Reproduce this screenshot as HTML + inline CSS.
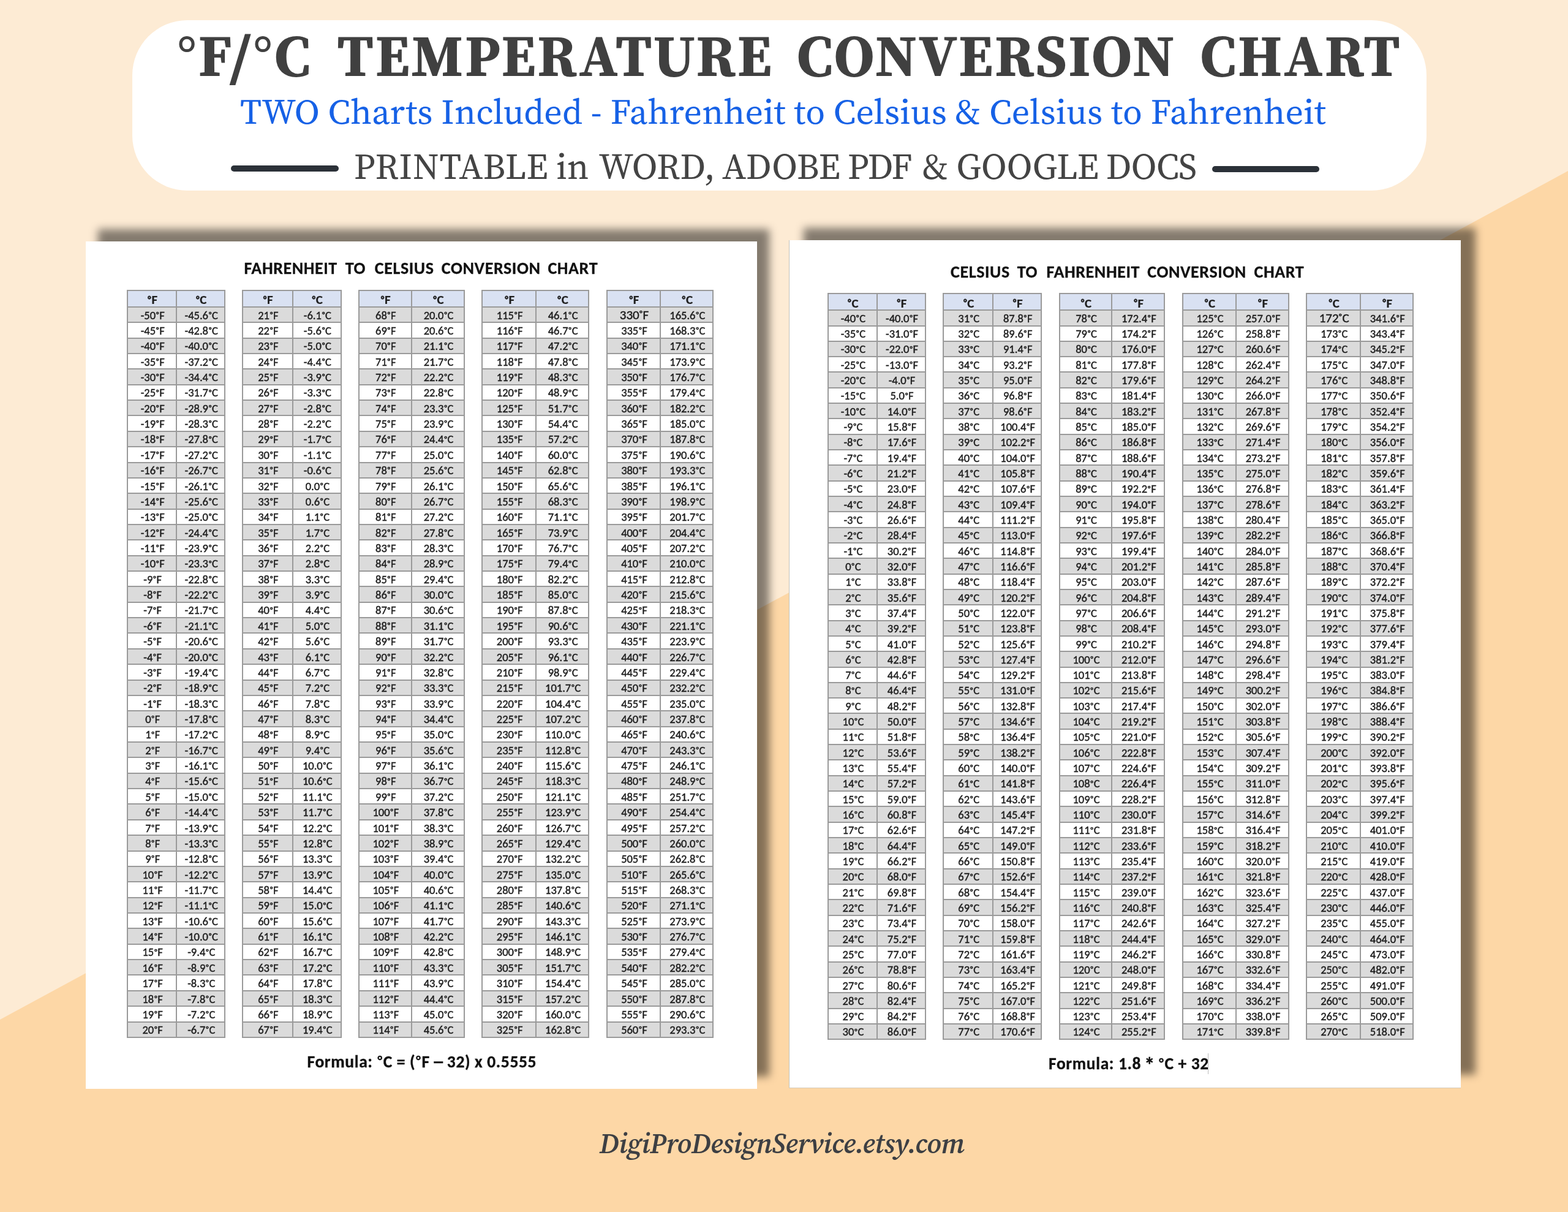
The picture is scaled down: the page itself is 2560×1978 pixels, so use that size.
<!DOCTYPE html>
<html><head><meta charset="utf-8"><title>°F/°C Temperature Conversion Chart</title>
<style>
*{margin:0;padding:0;box-sizing:border-box}
html,body{width:2560px;height:1978px;overflow:hidden}
body{position:relative;background:#fdebd4;font-family:"Carlito","Liberation Sans",sans-serif;font-size-adjust:cap-height 0.6416}
#bg2{position:absolute;left:0;top:0;width:2560px;height:1978px}
.pill{position:absolute;left:216px;top:33px;width:2113px;height:278px;background:#fff;border-radius:90px}
.title{position:absolute;left:0;width:2560px;white-space:nowrap;font-family:"Source Serif 4","Liberation Serif",serif;font-size-adjust:cap-height 0.67;color:#404040}
.t1{top:35.5px;font-weight:700;font-size:95px;line-height:110px;width:auto;letter-spacing:2.3px}
.t2{top:147px;font-weight:400;font-size:58px;line-height:70px;left:392px;letter-spacing:0.127px;width:auto;color:#1661e6}
.t3{top:240px;font-weight:400;font-size:58.8px;line-height:64px;left:578px;width:auto;color:#444}
.dash{position:absolute;height:10px;border-radius:5px;background:#2b3138}
.card{position:absolute;background:#fff}
.shadow{position:absolute;background:rgba(0,0,0,.48);filter:blur(7px)}
.ct{font-size-adjust:cap-height 0.6484;position:absolute;white-space:nowrap;font-weight:700;font-size:28px;line-height:34px;color:#111;letter-spacing:0.6px;-webkit-text-stroke:0.3px #111}
.t{position:absolute;background:#fff;box-shadow:inset 0 2px 0 #9a9a9a,inset 2px 0 0 #9a9a9a,inset -2px 0 0 #9a9a9a}
.t .h,.t .r{position:absolute;left:0;right:0}
.t .h{top:0;background:#d9e1f2;border-top:2px solid #9a9a9a}
.t .r{border-top:2px solid #9a9a9a}
.t .g{background:#dbdbdb}
.t .w{background:#fff}
.t .hl{position:absolute;left:0;right:0;height:2px;background:#9a9a9a}
.t b,.t s{position:absolute;top:0;bottom:0;display:flex;align-items:center;justify-content:center;text-decoration:none;color:#1e1e1e;white-space:nowrap}
.t b{font-size-adjust:cap-height 0.6484;font-weight:700;font-size:21px;padding-top:3px;padding-left:2.5px;letter-spacing:0.4px;-webkit-text-stroke:0.2px #1e1e1e}
.t b u{text-decoration:none;font-size:15px;position:relative;top:-0.5px;margin-right:0.5px;-webkit-text-stroke:0.7px #1e1e1e}
.t s{font-size:18.5px;padding-top:1px;padding-left:2px;-webkit-text-stroke:0.45px #1e1e1e}
.t .vl{position:absolute;top:0;bottom:0;width:2px;background:#9a9a9a}
.t .r::before,.t .h::before{content:"";position:absolute;left:0;top:-2px;bottom:0;width:2px;background:#9a9a9a}
.t .r::after,.t .h::after{content:"";position:absolute;right:0;top:-2px;bottom:0;width:2px;background:#9a9a9a}
.t s u{text-decoration:none;font-size:12.5px;font-weight:700;position:relative;top:-1.8px;padding:0 0.9px 0 1px;-webkit-text-stroke:0.45px #1e1e1e}
.big{font-style:normal;font-size:21px;position:relative;top:-0.5px}
.big sup{font-size:13px;font-weight:700;vertical-align:0;position:relative;top:-6px;padding:0 1px 0 0.5px}
.formula{font-size-adjust:cap-height 0.6484;position:absolute;white-space:nowrap;font-weight:700;font-size:27.5px;line-height:33px;color:#111;letter-spacing:0.66px;-webkit-text-stroke:0.35px #111}
.formula u{text-decoration:none;font-size:22px;position:relative;top:-3.5px;padding:0 1px}
.formula .nd{display:inline-block;transform:scaleX(1.5)}
.formula .ast{display:inline-block;transform:scale(1.25) translateY(1px)}
.etsy{position:absolute;white-space:nowrap;font-family:"Source Serif 4","Liberation Serif",serif;font-size-adjust:cap-height 0.67;font-style:italic;font-weight:600;font-size:46px;line-height:56px;color:#3d3f43;letter-spacing:-0.42px}

</style></head><body>
<svg id="bg2" width="2560" height="1978" viewBox="0 0 2560 1978"><polygon points="2560,279 2560,1978 0,1978 0,1664" fill="#fdd7a6"/></svg>
<div class="pill"></div>
<div class="title t1 fit" style="left:289.5px;letter-spacing:2.9px">°F/°C</div>
<div class="title t1 fit" style="left:550px">TEMPERATURE</div>
<div class="title t1 fit" style="left:1300.5px">CONVERSION</div>
<div class="title t1 fit" style="left:1959px;letter-spacing:2.6px">CHART</div>
<div class="title t2 fit">TWO Charts Included - Fahrenheit to Celsius &amp; Celsius to Fahrenheit</div>
<div class="dash" style="left:377px;top:270px;width:175.5px"></div>
<div class="title t3 fit" style="left:577.8px;letter-spacing:0.6px">PRINTABLE</div>
<div class="title t3 fit" style="left:908.2px;letter-spacing:0px">in</div>
<div class="title t3 fit" style="left:977.6px;letter-spacing:0px">WORD,</div>
<div class="title t3 fit" style="left:1179.2px;letter-spacing:0.2px">ADOBE</div>
<div class="title t3 fit" style="left:1383.8px;letter-spacing:-1.3px">PDF</div>
<div class="title t3 fit" style="left:1506.0px;letter-spacing:1.3px">&amp;</div>
<div class="title t3 fit" style="left:1561.6px;letter-spacing:-0.3px">GOOGLE</div>
<div class="title t3 fit" style="left:1805.6px;letter-spacing:-1.1px">DOCS</div>
<div class="dash" style="left:1979px;top:271px;width:175px"></div>

<div class="shadow" style="left:160px;top:374px;width:1096px;height:1383px"></div>
<div class="card" style="left:140px;top:394px;width:1096px;height:1383px"></div>
<div class="ct fit" style="left:398.5px;top:421px">FAHRENHEIT</div>
<div class="ct fit" style="left:563.7px;top:421px">TO</div>
<div class="ct fit" style="left:611.8px;top:421px">CELSIUS</div>
<div class="ct fit" style="left:720.8px;top:421px">CONVERSION</div>
<div class="ct fit" style="left:894.4px;top:421px">CHART</div>
<div class="t" style="left:207.30px;top:472.70px;width:161.20px;height:1221.21px">
<div class="h" style="height:28.20px"><b style="left:2px;width:77.70px"><u>°</u>F</b><b style="left:81.70px;width:77.50px"><u>°</u>C</b></div>
<div class="r g" style="top:27.20px;height:25.36px"><s style="left:2px;width:77.70px">-50<u>°</u>F</s><s style="left:81.70px;width:77.50px">-45.6<u>°</u>C</s></div>
<div class="r w" style="top:52.56px;height:25.36px"><s style="left:2px;width:77.70px">-45<u>°</u>F</s><s style="left:81.70px;width:77.50px">-42.8<u>°</u>C</s></div>
<div class="r g" style="top:77.92px;height:25.36px"><s style="left:2px;width:77.70px">-40<u>°</u>F</s><s style="left:81.70px;width:77.50px">-40.0<u>°</u>C</s></div>
<div class="r w" style="top:103.29px;height:25.36px"><s style="left:2px;width:77.70px">-35<u>°</u>F</s><s style="left:81.70px;width:77.50px">-37.2<u>°</u>C</s></div>
<div class="r g" style="top:128.65px;height:25.36px"><s style="left:2px;width:77.70px">-30<u>°</u>F</s><s style="left:81.70px;width:77.50px">-34.4<u>°</u>C</s></div>
<div class="r w" style="top:154.01px;height:25.36px"><s style="left:2px;width:77.70px">-25<u>°</u>F</s><s style="left:81.70px;width:77.50px">-31.7<u>°</u>C</s></div>
<div class="r g" style="top:179.37px;height:25.36px"><s style="left:2px;width:77.70px">-20<u>°</u>F</s><s style="left:81.70px;width:77.50px">-28.9<u>°</u>C</s></div>
<div class="r w" style="top:204.73px;height:25.36px"><s style="left:2px;width:77.70px">-19<u>°</u>F</s><s style="left:81.70px;width:77.50px">-28.3<u>°</u>C</s></div>
<div class="r g" style="top:230.10px;height:25.36px"><s style="left:2px;width:77.70px">-18<u>°</u>F</s><s style="left:81.70px;width:77.50px">-27.8<u>°</u>C</s></div>
<div class="r w" style="top:255.46px;height:25.36px"><s style="left:2px;width:77.70px">-17<u>°</u>F</s><s style="left:81.70px;width:77.50px">-27.2<u>°</u>C</s></div>
<div class="r g" style="top:280.82px;height:25.36px"><s style="left:2px;width:77.70px">-16<u>°</u>F</s><s style="left:81.70px;width:77.50px">-26.7<u>°</u>C</s></div>
<div class="r w" style="top:306.18px;height:25.36px"><s style="left:2px;width:77.70px">-15<u>°</u>F</s><s style="left:81.70px;width:77.50px">-26.1<u>°</u>C</s></div>
<div class="r g" style="top:331.54px;height:25.36px"><s style="left:2px;width:77.70px">-14<u>°</u>F</s><s style="left:81.70px;width:77.50px">-25.6<u>°</u>C</s></div>
<div class="r w" style="top:356.91px;height:25.36px"><s style="left:2px;width:77.70px">-13<u>°</u>F</s><s style="left:81.70px;width:77.50px">-25.0<u>°</u>C</s></div>
<div class="r g" style="top:382.27px;height:25.36px"><s style="left:2px;width:77.70px">-12<u>°</u>F</s><s style="left:81.70px;width:77.50px">-24.4<u>°</u>C</s></div>
<div class="r w" style="top:407.63px;height:25.36px"><s style="left:2px;width:77.70px">-11<u>°</u>F</s><s style="left:81.70px;width:77.50px">-23.9<u>°</u>C</s></div>
<div class="r g" style="top:432.99px;height:25.36px"><s style="left:2px;width:77.70px">-10<u>°</u>F</s><s style="left:81.70px;width:77.50px">-23.3<u>°</u>C</s></div>
<div class="r w" style="top:458.35px;height:25.36px"><s style="left:2px;width:77.70px">-9<u>°</u>F</s><s style="left:81.70px;width:77.50px">-22.8<u>°</u>C</s></div>
<div class="r g" style="top:483.72px;height:25.36px"><s style="left:2px;width:77.70px">-8<u>°</u>F</s><s style="left:81.70px;width:77.50px">-22.2<u>°</u>C</s></div>
<div class="r w" style="top:509.08px;height:25.36px"><s style="left:2px;width:77.70px">-7<u>°</u>F</s><s style="left:81.70px;width:77.50px">-21.7<u>°</u>C</s></div>
<div class="r g" style="top:534.44px;height:25.36px"><s style="left:2px;width:77.70px">-6<u>°</u>F</s><s style="left:81.70px;width:77.50px">-21.1<u>°</u>C</s></div>
<div class="r w" style="top:559.80px;height:25.36px"><s style="left:2px;width:77.70px">-5<u>°</u>F</s><s style="left:81.70px;width:77.50px">-20.6<u>°</u>C</s></div>
<div class="r g" style="top:585.16px;height:25.36px"><s style="left:2px;width:77.70px">-4<u>°</u>F</s><s style="left:81.70px;width:77.50px">-20.0<u>°</u>C</s></div>
<div class="r w" style="top:610.53px;height:25.36px"><s style="left:2px;width:77.70px">-3<u>°</u>F</s><s style="left:81.70px;width:77.50px">-19.4<u>°</u>C</s></div>
<div class="r g" style="top:635.89px;height:25.36px"><s style="left:2px;width:77.70px">-2<u>°</u>F</s><s style="left:81.70px;width:77.50px">-18.9<u>°</u>C</s></div>
<div class="r w" style="top:661.25px;height:25.36px"><s style="left:2px;width:77.70px">-1<u>°</u>F</s><s style="left:81.70px;width:77.50px">-18.3<u>°</u>C</s></div>
<div class="r g" style="top:686.61px;height:25.36px"><s style="left:2px;width:77.70px">0<u>°</u>F</s><s style="left:81.70px;width:77.50px">-17.8<u>°</u>C</s></div>
<div class="r w" style="top:711.97px;height:25.36px"><s style="left:2px;width:77.70px">1<u>°</u>F</s><s style="left:81.70px;width:77.50px">-17.2<u>°</u>C</s></div>
<div class="r g" style="top:737.34px;height:25.36px"><s style="left:2px;width:77.70px">2<u>°</u>F</s><s style="left:81.70px;width:77.50px">-16.7<u>°</u>C</s></div>
<div class="r w" style="top:762.70px;height:25.36px"><s style="left:2px;width:77.70px">3<u>°</u>F</s><s style="left:81.70px;width:77.50px">-16.1<u>°</u>C</s></div>
<div class="r g" style="top:788.06px;height:25.36px"><s style="left:2px;width:77.70px">4<u>°</u>F</s><s style="left:81.70px;width:77.50px">-15.6<u>°</u>C</s></div>
<div class="r w" style="top:813.42px;height:25.36px"><s style="left:2px;width:77.70px">5<u>°</u>F</s><s style="left:81.70px;width:77.50px">-15.0<u>°</u>C</s></div>
<div class="r g" style="top:838.78px;height:25.36px"><s style="left:2px;width:77.70px">6<u>°</u>F</s><s style="left:81.70px;width:77.50px">-14.4<u>°</u>C</s></div>
<div class="r w" style="top:864.15px;height:25.36px"><s style="left:2px;width:77.70px">7<u>°</u>F</s><s style="left:81.70px;width:77.50px">-13.9<u>°</u>C</s></div>
<div class="r g" style="top:889.51px;height:25.36px"><s style="left:2px;width:77.70px">8<u>°</u>F</s><s style="left:81.70px;width:77.50px">-13.3<u>°</u>C</s></div>
<div class="r w" style="top:914.87px;height:25.36px"><s style="left:2px;width:77.70px">9<u>°</u>F</s><s style="left:81.70px;width:77.50px">-12.8<u>°</u>C</s></div>
<div class="r g" style="top:940.23px;height:25.36px"><s style="left:2px;width:77.70px">10<u>°</u>F</s><s style="left:81.70px;width:77.50px">-12.2<u>°</u>C</s></div>
<div class="r w" style="top:965.59px;height:25.36px"><s style="left:2px;width:77.70px">11<u>°</u>F</s><s style="left:81.70px;width:77.50px">-11.7<u>°</u>C</s></div>
<div class="r g" style="top:990.96px;height:25.36px"><s style="left:2px;width:77.70px">12<u>°</u>F</s><s style="left:81.70px;width:77.50px">-11.1<u>°</u>C</s></div>
<div class="r w" style="top:1016.32px;height:25.36px"><s style="left:2px;width:77.70px">13<u>°</u>F</s><s style="left:81.70px;width:77.50px">-10.6<u>°</u>C</s></div>
<div class="r g" style="top:1041.68px;height:25.36px"><s style="left:2px;width:77.70px">14<u>°</u>F</s><s style="left:81.70px;width:77.50px">-10.0<u>°</u>C</s></div>
<div class="r w" style="top:1067.04px;height:25.36px"><s style="left:2px;width:77.70px">15<u>°</u>F</s><s style="left:81.70px;width:77.50px">-9.4<u>°</u>C</s></div>
<div class="r g" style="top:1092.40px;height:25.36px"><s style="left:2px;width:77.70px">16<u>°</u>F</s><s style="left:81.70px;width:77.50px">-8.9<u>°</u>C</s></div>
<div class="r w" style="top:1117.77px;height:25.36px"><s style="left:2px;width:77.70px">17<u>°</u>F</s><s style="left:81.70px;width:77.50px">-8.3<u>°</u>C</s></div>
<div class="r g" style="top:1143.13px;height:25.36px"><s style="left:2px;width:77.70px">18<u>°</u>F</s><s style="left:81.70px;width:77.50px">-7.8<u>°</u>C</s></div>
<div class="r w" style="top:1168.49px;height:25.36px"><s style="left:2px;width:77.70px">19<u>°</u>F</s><s style="left:81.70px;width:77.50px">-7.2<u>°</u>C</s></div>
<div class="r g" style="top:1193.85px;height:25.36px"><s style="left:2px;width:77.70px">20<u>°</u>F</s><s style="left:81.70px;width:77.50px">-6.7<u>°</u>C</s></div>
<div class="hl" style="top:1219.21px"></div>
<div class="vl" style="left:79.70px"></div>
</div>
<div class="t" style="left:395.00px;top:472.70px;width:163.00px;height:1221.21px">
<div class="h" style="height:28.20px"><b style="left:2px;width:79.70px"><u>°</u>F</b><b style="left:83.70px;width:77.30px"><u>°</u>C</b></div>
<div class="r g" style="top:27.20px;height:25.36px"><s style="left:2px;width:79.70px">21<u>°</u>F</s><s style="left:83.70px;width:77.30px">-6.1<u>°</u>C</s></div>
<div class="r w" style="top:52.56px;height:25.36px"><s style="left:2px;width:79.70px">22<u>°</u>F</s><s style="left:83.70px;width:77.30px">-5.6<u>°</u>C</s></div>
<div class="r g" style="top:77.92px;height:25.36px"><s style="left:2px;width:79.70px">23<u>°</u>F</s><s style="left:83.70px;width:77.30px">-5.0<u>°</u>C</s></div>
<div class="r w" style="top:103.29px;height:25.36px"><s style="left:2px;width:79.70px">24<u>°</u>F</s><s style="left:83.70px;width:77.30px">-4.4<u>°</u>C</s></div>
<div class="r g" style="top:128.65px;height:25.36px"><s style="left:2px;width:79.70px">25<u>°</u>F</s><s style="left:83.70px;width:77.30px">-3.9<u>°</u>C</s></div>
<div class="r w" style="top:154.01px;height:25.36px"><s style="left:2px;width:79.70px">26<u>°</u>F</s><s style="left:83.70px;width:77.30px">-3.3<u>°</u>C</s></div>
<div class="r g" style="top:179.37px;height:25.36px"><s style="left:2px;width:79.70px">27<u>°</u>F</s><s style="left:83.70px;width:77.30px">-2.8<u>°</u>C</s></div>
<div class="r w" style="top:204.73px;height:25.36px"><s style="left:2px;width:79.70px">28<u>°</u>F</s><s style="left:83.70px;width:77.30px">-2.2<u>°</u>C</s></div>
<div class="r g" style="top:230.10px;height:25.36px"><s style="left:2px;width:79.70px">29<u>°</u>F</s><s style="left:83.70px;width:77.30px">-1.7<u>°</u>C</s></div>
<div class="r w" style="top:255.46px;height:25.36px"><s style="left:2px;width:79.70px">30<u>°</u>F</s><s style="left:83.70px;width:77.30px">-1.1<u>°</u>C</s></div>
<div class="r g" style="top:280.82px;height:25.36px"><s style="left:2px;width:79.70px">31<u>°</u>F</s><s style="left:83.70px;width:77.30px">-0.6<u>°</u>C</s></div>
<div class="r w" style="top:306.18px;height:25.36px"><s style="left:2px;width:79.70px">32<u>°</u>F</s><s style="left:83.70px;width:77.30px">0.0<u>°</u>C</s></div>
<div class="r g" style="top:331.54px;height:25.36px"><s style="left:2px;width:79.70px">33<u>°</u>F</s><s style="left:83.70px;width:77.30px">0.6<u>°</u>C</s></div>
<div class="r w" style="top:356.91px;height:25.36px"><s style="left:2px;width:79.70px">34<u>°</u>F</s><s style="left:83.70px;width:77.30px">1.1<u>°</u>C</s></div>
<div class="r g" style="top:382.27px;height:25.36px"><s style="left:2px;width:79.70px">35<u>°</u>F</s><s style="left:83.70px;width:77.30px">1.7<u>°</u>C</s></div>
<div class="r w" style="top:407.63px;height:25.36px"><s style="left:2px;width:79.70px">36<u>°</u>F</s><s style="left:83.70px;width:77.30px">2.2<u>°</u>C</s></div>
<div class="r g" style="top:432.99px;height:25.36px"><s style="left:2px;width:79.70px">37<u>°</u>F</s><s style="left:83.70px;width:77.30px">2.8<u>°</u>C</s></div>
<div class="r w" style="top:458.35px;height:25.36px"><s style="left:2px;width:79.70px">38<u>°</u>F</s><s style="left:83.70px;width:77.30px">3.3<u>°</u>C</s></div>
<div class="r g" style="top:483.72px;height:25.36px"><s style="left:2px;width:79.70px">39<u>°</u>F</s><s style="left:83.70px;width:77.30px">3.9<u>°</u>C</s></div>
<div class="r w" style="top:509.08px;height:25.36px"><s style="left:2px;width:79.70px">40<u>°</u>F</s><s style="left:83.70px;width:77.30px">4.4<u>°</u>C</s></div>
<div class="r g" style="top:534.44px;height:25.36px"><s style="left:2px;width:79.70px">41<u>°</u>F</s><s style="left:83.70px;width:77.30px">5.0<u>°</u>C</s></div>
<div class="r w" style="top:559.80px;height:25.36px"><s style="left:2px;width:79.70px">42<u>°</u>F</s><s style="left:83.70px;width:77.30px">5.6<u>°</u>C</s></div>
<div class="r g" style="top:585.16px;height:25.36px"><s style="left:2px;width:79.70px">43<u>°</u>F</s><s style="left:83.70px;width:77.30px">6.1<u>°</u>C</s></div>
<div class="r w" style="top:610.53px;height:25.36px"><s style="left:2px;width:79.70px">44<u>°</u>F</s><s style="left:83.70px;width:77.30px">6.7<u>°</u>C</s></div>
<div class="r g" style="top:635.89px;height:25.36px"><s style="left:2px;width:79.70px">45<u>°</u>F</s><s style="left:83.70px;width:77.30px">7.2<u>°</u>C</s></div>
<div class="r w" style="top:661.25px;height:25.36px"><s style="left:2px;width:79.70px">46<u>°</u>F</s><s style="left:83.70px;width:77.30px">7.8<u>°</u>C</s></div>
<div class="r g" style="top:686.61px;height:25.36px"><s style="left:2px;width:79.70px">47<u>°</u>F</s><s style="left:83.70px;width:77.30px">8.3<u>°</u>C</s></div>
<div class="r w" style="top:711.97px;height:25.36px"><s style="left:2px;width:79.70px">48<u>°</u>F</s><s style="left:83.70px;width:77.30px">8.9<u>°</u>C</s></div>
<div class="r g" style="top:737.34px;height:25.36px"><s style="left:2px;width:79.70px">49<u>°</u>F</s><s style="left:83.70px;width:77.30px">9.4<u>°</u>C</s></div>
<div class="r w" style="top:762.70px;height:25.36px"><s style="left:2px;width:79.70px">50<u>°</u>F</s><s style="left:83.70px;width:77.30px">10.0<u>°</u>C</s></div>
<div class="r g" style="top:788.06px;height:25.36px"><s style="left:2px;width:79.70px">51<u>°</u>F</s><s style="left:83.70px;width:77.30px">10.6<u>°</u>C</s></div>
<div class="r w" style="top:813.42px;height:25.36px"><s style="left:2px;width:79.70px">52<u>°</u>F</s><s style="left:83.70px;width:77.30px">11.1<u>°</u>C</s></div>
<div class="r g" style="top:838.78px;height:25.36px"><s style="left:2px;width:79.70px">53<u>°</u>F</s><s style="left:83.70px;width:77.30px">11.7<u>°</u>C</s></div>
<div class="r w" style="top:864.15px;height:25.36px"><s style="left:2px;width:79.70px">54<u>°</u>F</s><s style="left:83.70px;width:77.30px">12.2<u>°</u>C</s></div>
<div class="r g" style="top:889.51px;height:25.36px"><s style="left:2px;width:79.70px">55<u>°</u>F</s><s style="left:83.70px;width:77.30px">12.8<u>°</u>C</s></div>
<div class="r w" style="top:914.87px;height:25.36px"><s style="left:2px;width:79.70px">56<u>°</u>F</s><s style="left:83.70px;width:77.30px">13.3<u>°</u>C</s></div>
<div class="r g" style="top:940.23px;height:25.36px"><s style="left:2px;width:79.70px">57<u>°</u>F</s><s style="left:83.70px;width:77.30px">13.9<u>°</u>C</s></div>
<div class="r w" style="top:965.59px;height:25.36px"><s style="left:2px;width:79.70px">58<u>°</u>F</s><s style="left:83.70px;width:77.30px">14.4<u>°</u>C</s></div>
<div class="r g" style="top:990.96px;height:25.36px"><s style="left:2px;width:79.70px">59<u>°</u>F</s><s style="left:83.70px;width:77.30px">15.0<u>°</u>C</s></div>
<div class="r w" style="top:1016.32px;height:25.36px"><s style="left:2px;width:79.70px">60<u>°</u>F</s><s style="left:83.70px;width:77.30px">15.6<u>°</u>C</s></div>
<div class="r g" style="top:1041.68px;height:25.36px"><s style="left:2px;width:79.70px">61<u>°</u>F</s><s style="left:83.70px;width:77.30px">16.1<u>°</u>C</s></div>
<div class="r w" style="top:1067.04px;height:25.36px"><s style="left:2px;width:79.70px">62<u>°</u>F</s><s style="left:83.70px;width:77.30px">16.7<u>°</u>C</s></div>
<div class="r g" style="top:1092.40px;height:25.36px"><s style="left:2px;width:79.70px">63<u>°</u>F</s><s style="left:83.70px;width:77.30px">17.2<u>°</u>C</s></div>
<div class="r w" style="top:1117.77px;height:25.36px"><s style="left:2px;width:79.70px">64<u>°</u>F</s><s style="left:83.70px;width:77.30px">17.8<u>°</u>C</s></div>
<div class="r g" style="top:1143.13px;height:25.36px"><s style="left:2px;width:79.70px">65<u>°</u>F</s><s style="left:83.70px;width:77.30px">18.3<u>°</u>C</s></div>
<div class="r w" style="top:1168.49px;height:25.36px"><s style="left:2px;width:79.70px">66<u>°</u>F</s><s style="left:83.70px;width:77.30px">18.9<u>°</u>C</s></div>
<div class="r g" style="top:1193.85px;height:25.36px"><s style="left:2px;width:79.70px">67<u>°</u>F</s><s style="left:83.70px;width:77.30px">19.4<u>°</u>C</s></div>
<div class="hl" style="top:1219.21px"></div>
<div class="vl" style="left:81.70px"></div>
</div>
<div class="t" style="left:584.80px;top:472.70px;width:174.60px;height:1221.21px">
<div class="h" style="height:28.20px"><b style="left:2px;width:84.00px"><u>°</u>F</b><b style="left:88.00px;width:84.60px"><u>°</u>C</b></div>
<div class="r g" style="top:27.20px;height:25.36px"><s style="left:2px;width:84.00px">68<u>°</u>F</s><s style="left:88.00px;width:84.60px">20.0<u>°</u>C</s></div>
<div class="r w" style="top:52.56px;height:25.36px"><s style="left:2px;width:84.00px">69<u>°</u>F</s><s style="left:88.00px;width:84.60px">20.6<u>°</u>C</s></div>
<div class="r g" style="top:77.92px;height:25.36px"><s style="left:2px;width:84.00px">70<u>°</u>F</s><s style="left:88.00px;width:84.60px">21.1<u>°</u>C</s></div>
<div class="r w" style="top:103.29px;height:25.36px"><s style="left:2px;width:84.00px">71<u>°</u>F</s><s style="left:88.00px;width:84.60px">21.7<u>°</u>C</s></div>
<div class="r g" style="top:128.65px;height:25.36px"><s style="left:2px;width:84.00px">72<u>°</u>F</s><s style="left:88.00px;width:84.60px">22.2<u>°</u>C</s></div>
<div class="r w" style="top:154.01px;height:25.36px"><s style="left:2px;width:84.00px">73<u>°</u>F</s><s style="left:88.00px;width:84.60px">22.8<u>°</u>C</s></div>
<div class="r g" style="top:179.37px;height:25.36px"><s style="left:2px;width:84.00px">74<u>°</u>F</s><s style="left:88.00px;width:84.60px">23.3<u>°</u>C</s></div>
<div class="r w" style="top:204.73px;height:25.36px"><s style="left:2px;width:84.00px">75<u>°</u>F</s><s style="left:88.00px;width:84.60px">23.9<u>°</u>C</s></div>
<div class="r g" style="top:230.10px;height:25.36px"><s style="left:2px;width:84.00px">76<u>°</u>F</s><s style="left:88.00px;width:84.60px">24.4<u>°</u>C</s></div>
<div class="r w" style="top:255.46px;height:25.36px"><s style="left:2px;width:84.00px">77<u>°</u>F</s><s style="left:88.00px;width:84.60px">25.0<u>°</u>C</s></div>
<div class="r g" style="top:280.82px;height:25.36px"><s style="left:2px;width:84.00px">78<u>°</u>F</s><s style="left:88.00px;width:84.60px">25.6<u>°</u>C</s></div>
<div class="r w" style="top:306.18px;height:25.36px"><s style="left:2px;width:84.00px">79<u>°</u>F</s><s style="left:88.00px;width:84.60px">26.1<u>°</u>C</s></div>
<div class="r g" style="top:331.54px;height:25.36px"><s style="left:2px;width:84.00px">80<u>°</u>F</s><s style="left:88.00px;width:84.60px">26.7<u>°</u>C</s></div>
<div class="r w" style="top:356.91px;height:25.36px"><s style="left:2px;width:84.00px">81<u>°</u>F</s><s style="left:88.00px;width:84.60px">27.2<u>°</u>C</s></div>
<div class="r g" style="top:382.27px;height:25.36px"><s style="left:2px;width:84.00px">82<u>°</u>F</s><s style="left:88.00px;width:84.60px">27.8<u>°</u>C</s></div>
<div class="r w" style="top:407.63px;height:25.36px"><s style="left:2px;width:84.00px">83<u>°</u>F</s><s style="left:88.00px;width:84.60px">28.3<u>°</u>C</s></div>
<div class="r g" style="top:432.99px;height:25.36px"><s style="left:2px;width:84.00px">84<u>°</u>F</s><s style="left:88.00px;width:84.60px">28.9<u>°</u>C</s></div>
<div class="r w" style="top:458.35px;height:25.36px"><s style="left:2px;width:84.00px">85<u>°</u>F</s><s style="left:88.00px;width:84.60px">29.4<u>°</u>C</s></div>
<div class="r g" style="top:483.72px;height:25.36px"><s style="left:2px;width:84.00px">86<u>°</u>F</s><s style="left:88.00px;width:84.60px">30.0<u>°</u>C</s></div>
<div class="r w" style="top:509.08px;height:25.36px"><s style="left:2px;width:84.00px">87<u>°</u>F</s><s style="left:88.00px;width:84.60px">30.6<u>°</u>C</s></div>
<div class="r g" style="top:534.44px;height:25.36px"><s style="left:2px;width:84.00px">88<u>°</u>F</s><s style="left:88.00px;width:84.60px">31.1<u>°</u>C</s></div>
<div class="r w" style="top:559.80px;height:25.36px"><s style="left:2px;width:84.00px">89<u>°</u>F</s><s style="left:88.00px;width:84.60px">31.7<u>°</u>C</s></div>
<div class="r g" style="top:585.16px;height:25.36px"><s style="left:2px;width:84.00px">90<u>°</u>F</s><s style="left:88.00px;width:84.60px">32.2<u>°</u>C</s></div>
<div class="r w" style="top:610.53px;height:25.36px"><s style="left:2px;width:84.00px">91<u>°</u>F</s><s style="left:88.00px;width:84.60px">32.8<u>°</u>C</s></div>
<div class="r g" style="top:635.89px;height:25.36px"><s style="left:2px;width:84.00px">92<u>°</u>F</s><s style="left:88.00px;width:84.60px">33.3<u>°</u>C</s></div>
<div class="r w" style="top:661.25px;height:25.36px"><s style="left:2px;width:84.00px">93<u>°</u>F</s><s style="left:88.00px;width:84.60px">33.9<u>°</u>C</s></div>
<div class="r g" style="top:686.61px;height:25.36px"><s style="left:2px;width:84.00px">94<u>°</u>F</s><s style="left:88.00px;width:84.60px">34.4<u>°</u>C</s></div>
<div class="r w" style="top:711.97px;height:25.36px"><s style="left:2px;width:84.00px">95<u>°</u>F</s><s style="left:88.00px;width:84.60px">35.0<u>°</u>C</s></div>
<div class="r g" style="top:737.34px;height:25.36px"><s style="left:2px;width:84.00px">96<u>°</u>F</s><s style="left:88.00px;width:84.60px">35.6<u>°</u>C</s></div>
<div class="r w" style="top:762.70px;height:25.36px"><s style="left:2px;width:84.00px">97<u>°</u>F</s><s style="left:88.00px;width:84.60px">36.1<u>°</u>C</s></div>
<div class="r g" style="top:788.06px;height:25.36px"><s style="left:2px;width:84.00px">98<u>°</u>F</s><s style="left:88.00px;width:84.60px">36.7<u>°</u>C</s></div>
<div class="r w" style="top:813.42px;height:25.36px"><s style="left:2px;width:84.00px">99<u>°</u>F</s><s style="left:88.00px;width:84.60px">37.2<u>°</u>C</s></div>
<div class="r g" style="top:838.78px;height:25.36px"><s style="left:2px;width:84.00px">100<u>°</u>F</s><s style="left:88.00px;width:84.60px">37.8<u>°</u>C</s></div>
<div class="r w" style="top:864.15px;height:25.36px"><s style="left:2px;width:84.00px">101<u>°</u>F</s><s style="left:88.00px;width:84.60px">38.3<u>°</u>C</s></div>
<div class="r g" style="top:889.51px;height:25.36px"><s style="left:2px;width:84.00px">102<u>°</u>F</s><s style="left:88.00px;width:84.60px">38.9<u>°</u>C</s></div>
<div class="r w" style="top:914.87px;height:25.36px"><s style="left:2px;width:84.00px">103<u>°</u>F</s><s style="left:88.00px;width:84.60px">39.4<u>°</u>C</s></div>
<div class="r g" style="top:940.23px;height:25.36px"><s style="left:2px;width:84.00px">104<u>°</u>F</s><s style="left:88.00px;width:84.60px">40.0<u>°</u>C</s></div>
<div class="r w" style="top:965.59px;height:25.36px"><s style="left:2px;width:84.00px">105<u>°</u>F</s><s style="left:88.00px;width:84.60px">40.6<u>°</u>C</s></div>
<div class="r g" style="top:990.96px;height:25.36px"><s style="left:2px;width:84.00px">106<u>°</u>F</s><s style="left:88.00px;width:84.60px">41.1<u>°</u>C</s></div>
<div class="r w" style="top:1016.32px;height:25.36px"><s style="left:2px;width:84.00px">107<u>°</u>F</s><s style="left:88.00px;width:84.60px">41.7<u>°</u>C</s></div>
<div class="r g" style="top:1041.68px;height:25.36px"><s style="left:2px;width:84.00px">108<u>°</u>F</s><s style="left:88.00px;width:84.60px">42.2<u>°</u>C</s></div>
<div class="r w" style="top:1067.04px;height:25.36px"><s style="left:2px;width:84.00px">109<u>°</u>F</s><s style="left:88.00px;width:84.60px">42.8<u>°</u>C</s></div>
<div class="r g" style="top:1092.40px;height:25.36px"><s style="left:2px;width:84.00px">110<u>°</u>F</s><s style="left:88.00px;width:84.60px">43.3<u>°</u>C</s></div>
<div class="r w" style="top:1117.77px;height:25.36px"><s style="left:2px;width:84.00px">111<u>°</u>F</s><s style="left:88.00px;width:84.60px">43.9<u>°</u>C</s></div>
<div class="r g" style="top:1143.13px;height:25.36px"><s style="left:2px;width:84.00px">112<u>°</u>F</s><s style="left:88.00px;width:84.60px">44.4<u>°</u>C</s></div>
<div class="r w" style="top:1168.49px;height:25.36px"><s style="left:2px;width:84.00px">113<u>°</u>F</s><s style="left:88.00px;width:84.60px">45.0<u>°</u>C</s></div>
<div class="r g" style="top:1193.85px;height:25.36px"><s style="left:2px;width:84.00px">114<u>°</u>F</s><s style="left:88.00px;width:84.60px">45.6<u>°</u>C</s></div>
<div class="hl" style="top:1219.21px"></div>
<div class="vl" style="left:86.00px"></div>
</div>
<div class="t" style="left:786.30px;top:472.70px;width:175.90px;height:1221.21px">
<div class="h" style="height:28.20px"><b style="left:2px;width:85.80px"><u>°</u>F</b><b style="left:89.80px;width:84.10px"><u>°</u>C</b></div>
<div class="r g" style="top:27.20px;height:25.36px"><s style="left:2px;width:85.80px">115<u>°</u>F</s><s style="left:89.80px;width:84.10px">46.1<u>°</u>C</s></div>
<div class="r w" style="top:52.56px;height:25.36px"><s style="left:2px;width:85.80px">116<u>°</u>F</s><s style="left:89.80px;width:84.10px">46.7<u>°</u>C</s></div>
<div class="r g" style="top:77.92px;height:25.36px"><s style="left:2px;width:85.80px">117<u>°</u>F</s><s style="left:89.80px;width:84.10px">47.2<u>°</u>C</s></div>
<div class="r w" style="top:103.29px;height:25.36px"><s style="left:2px;width:85.80px">118<u>°</u>F</s><s style="left:89.80px;width:84.10px">47.8<u>°</u>C</s></div>
<div class="r g" style="top:128.65px;height:25.36px"><s style="left:2px;width:85.80px">119<u>°</u>F</s><s style="left:89.80px;width:84.10px">48.3<u>°</u>C</s></div>
<div class="r w" style="top:154.01px;height:25.36px"><s style="left:2px;width:85.80px">120<u>°</u>F</s><s style="left:89.80px;width:84.10px">48.9<u>°</u>C</s></div>
<div class="r g" style="top:179.37px;height:25.36px"><s style="left:2px;width:85.80px">125<u>°</u>F</s><s style="left:89.80px;width:84.10px">51.7<u>°</u>C</s></div>
<div class="r w" style="top:204.73px;height:25.36px"><s style="left:2px;width:85.80px">130<u>°</u>F</s><s style="left:89.80px;width:84.10px">54.4<u>°</u>C</s></div>
<div class="r g" style="top:230.10px;height:25.36px"><s style="left:2px;width:85.80px">135<u>°</u>F</s><s style="left:89.80px;width:84.10px">57.2<u>°</u>C</s></div>
<div class="r w" style="top:255.46px;height:25.36px"><s style="left:2px;width:85.80px">140<u>°</u>F</s><s style="left:89.80px;width:84.10px">60.0<u>°</u>C</s></div>
<div class="r g" style="top:280.82px;height:25.36px"><s style="left:2px;width:85.80px">145<u>°</u>F</s><s style="left:89.80px;width:84.10px">62.8<u>°</u>C</s></div>
<div class="r w" style="top:306.18px;height:25.36px"><s style="left:2px;width:85.80px">150<u>°</u>F</s><s style="left:89.80px;width:84.10px">65.6<u>°</u>C</s></div>
<div class="r g" style="top:331.54px;height:25.36px"><s style="left:2px;width:85.80px">155<u>°</u>F</s><s style="left:89.80px;width:84.10px">68.3<u>°</u>C</s></div>
<div class="r w" style="top:356.91px;height:25.36px"><s style="left:2px;width:85.80px">160<u>°</u>F</s><s style="left:89.80px;width:84.10px">71.1<u>°</u>C</s></div>
<div class="r g" style="top:382.27px;height:25.36px"><s style="left:2px;width:85.80px">165<u>°</u>F</s><s style="left:89.80px;width:84.10px">73.9<u>°</u>C</s></div>
<div class="r w" style="top:407.63px;height:25.36px"><s style="left:2px;width:85.80px">170<u>°</u>F</s><s style="left:89.80px;width:84.10px">76.7<u>°</u>C</s></div>
<div class="r g" style="top:432.99px;height:25.36px"><s style="left:2px;width:85.80px">175<u>°</u>F</s><s style="left:89.80px;width:84.10px">79.4<u>°</u>C</s></div>
<div class="r w" style="top:458.35px;height:25.36px"><s style="left:2px;width:85.80px">180<u>°</u>F</s><s style="left:89.80px;width:84.10px">82.2<u>°</u>C</s></div>
<div class="r g" style="top:483.72px;height:25.36px"><s style="left:2px;width:85.80px">185<u>°</u>F</s><s style="left:89.80px;width:84.10px">85.0<u>°</u>C</s></div>
<div class="r w" style="top:509.08px;height:25.36px"><s style="left:2px;width:85.80px">190<u>°</u>F</s><s style="left:89.80px;width:84.10px">87.8<u>°</u>C</s></div>
<div class="r g" style="top:534.44px;height:25.36px"><s style="left:2px;width:85.80px">195<u>°</u>F</s><s style="left:89.80px;width:84.10px">90.6<u>°</u>C</s></div>
<div class="r w" style="top:559.80px;height:25.36px"><s style="left:2px;width:85.80px">200<u>°</u>F</s><s style="left:89.80px;width:84.10px">93.3<u>°</u>C</s></div>
<div class="r g" style="top:585.16px;height:25.36px"><s style="left:2px;width:85.80px">205<u>°</u>F</s><s style="left:89.80px;width:84.10px">96.1<u>°</u>C</s></div>
<div class="r w" style="top:610.53px;height:25.36px"><s style="left:2px;width:85.80px">210<u>°</u>F</s><s style="left:89.80px;width:84.10px">98.9<u>°</u>C</s></div>
<div class="r g" style="top:635.89px;height:25.36px"><s style="left:2px;width:85.80px">215<u>°</u>F</s><s style="left:89.80px;width:84.10px">101.7<u>°</u>C</s></div>
<div class="r w" style="top:661.25px;height:25.36px"><s style="left:2px;width:85.80px">220<u>°</u>F</s><s style="left:89.80px;width:84.10px">104.4<u>°</u>C</s></div>
<div class="r g" style="top:686.61px;height:25.36px"><s style="left:2px;width:85.80px">225<u>°</u>F</s><s style="left:89.80px;width:84.10px">107.2<u>°</u>C</s></div>
<div class="r w" style="top:711.97px;height:25.36px"><s style="left:2px;width:85.80px">230<u>°</u>F</s><s style="left:89.80px;width:84.10px">110.0<u>°</u>C</s></div>
<div class="r g" style="top:737.34px;height:25.36px"><s style="left:2px;width:85.80px">235<u>°</u>F</s><s style="left:89.80px;width:84.10px">112.8<u>°</u>C</s></div>
<div class="r w" style="top:762.70px;height:25.36px"><s style="left:2px;width:85.80px">240<u>°</u>F</s><s style="left:89.80px;width:84.10px">115.6<u>°</u>C</s></div>
<div class="r g" style="top:788.06px;height:25.36px"><s style="left:2px;width:85.80px">245<u>°</u>F</s><s style="left:89.80px;width:84.10px">118.3<u>°</u>C</s></div>
<div class="r w" style="top:813.42px;height:25.36px"><s style="left:2px;width:85.80px">250<u>°</u>F</s><s style="left:89.80px;width:84.10px">121.1<u>°</u>C</s></div>
<div class="r g" style="top:838.78px;height:25.36px"><s style="left:2px;width:85.80px">255<u>°</u>F</s><s style="left:89.80px;width:84.10px">123.9<u>°</u>C</s></div>
<div class="r w" style="top:864.15px;height:25.36px"><s style="left:2px;width:85.80px">260<u>°</u>F</s><s style="left:89.80px;width:84.10px">126.7<u>°</u>C</s></div>
<div class="r g" style="top:889.51px;height:25.36px"><s style="left:2px;width:85.80px">265<u>°</u>F</s><s style="left:89.80px;width:84.10px">129.4<u>°</u>C</s></div>
<div class="r w" style="top:914.87px;height:25.36px"><s style="left:2px;width:85.80px">270<u>°</u>F</s><s style="left:89.80px;width:84.10px">132.2<u>°</u>C</s></div>
<div class="r g" style="top:940.23px;height:25.36px"><s style="left:2px;width:85.80px">275<u>°</u>F</s><s style="left:89.80px;width:84.10px">135.0<u>°</u>C</s></div>
<div class="r w" style="top:965.59px;height:25.36px"><s style="left:2px;width:85.80px">280<u>°</u>F</s><s style="left:89.80px;width:84.10px">137.8<u>°</u>C</s></div>
<div class="r g" style="top:990.96px;height:25.36px"><s style="left:2px;width:85.80px">285<u>°</u>F</s><s style="left:89.80px;width:84.10px">140.6<u>°</u>C</s></div>
<div class="r w" style="top:1016.32px;height:25.36px"><s style="left:2px;width:85.80px">290<u>°</u>F</s><s style="left:89.80px;width:84.10px">143.3<u>°</u>C</s></div>
<div class="r g" style="top:1041.68px;height:25.36px"><s style="left:2px;width:85.80px">295<u>°</u>F</s><s style="left:89.80px;width:84.10px">146.1<u>°</u>C</s></div>
<div class="r w" style="top:1067.04px;height:25.36px"><s style="left:2px;width:85.80px">300<u>°</u>F</s><s style="left:89.80px;width:84.10px">148.9<u>°</u>C</s></div>
<div class="r g" style="top:1092.40px;height:25.36px"><s style="left:2px;width:85.80px">305<u>°</u>F</s><s style="left:89.80px;width:84.10px">151.7<u>°</u>C</s></div>
<div class="r w" style="top:1117.77px;height:25.36px"><s style="left:2px;width:85.80px">310<u>°</u>F</s><s style="left:89.80px;width:84.10px">154.4<u>°</u>C</s></div>
<div class="r g" style="top:1143.13px;height:25.36px"><s style="left:2px;width:85.80px">315<u>°</u>F</s><s style="left:89.80px;width:84.10px">157.2<u>°</u>C</s></div>
<div class="r w" style="top:1168.49px;height:25.36px"><s style="left:2px;width:85.80px">320<u>°</u>F</s><s style="left:89.80px;width:84.10px">160.0<u>°</u>C</s></div>
<div class="r g" style="top:1193.85px;height:25.36px"><s style="left:2px;width:85.80px">325<u>°</u>F</s><s style="left:89.80px;width:84.10px">162.8<u>°</u>C</s></div>
<div class="hl" style="top:1219.21px"></div>
<div class="vl" style="left:87.80px"></div>
</div>
<div class="t" style="left:989.60px;top:472.70px;width:175.80px;height:1221.21px">
<div class="h" style="height:28.20px"><b style="left:2px;width:85.80px"><u>°</u>F</b><b style="left:89.80px;width:84.00px"><u>°</u>C</b></div>
<div class="r g" style="top:27.20px;height:25.36px"><s style="left:2px;width:85.80px"><i class="big">330<sup>°</sup>F</i></s><s style="left:89.80px;width:84.00px">165.6<u>°</u>C</s></div>
<div class="r w" style="top:52.56px;height:25.36px"><s style="left:2px;width:85.80px">335<u>°</u>F</s><s style="left:89.80px;width:84.00px">168.3<u>°</u>C</s></div>
<div class="r g" style="top:77.92px;height:25.36px"><s style="left:2px;width:85.80px">340<u>°</u>F</s><s style="left:89.80px;width:84.00px">171.1<u>°</u>C</s></div>
<div class="r w" style="top:103.29px;height:25.36px"><s style="left:2px;width:85.80px">345<u>°</u>F</s><s style="left:89.80px;width:84.00px">173.9<u>°</u>C</s></div>
<div class="r g" style="top:128.65px;height:25.36px"><s style="left:2px;width:85.80px">350<u>°</u>F</s><s style="left:89.80px;width:84.00px">176.7<u>°</u>C</s></div>
<div class="r w" style="top:154.01px;height:25.36px"><s style="left:2px;width:85.80px">355<u>°</u>F</s><s style="left:89.80px;width:84.00px">179.4<u>°</u>C</s></div>
<div class="r g" style="top:179.37px;height:25.36px"><s style="left:2px;width:85.80px">360<u>°</u>F</s><s style="left:89.80px;width:84.00px">182.2<u>°</u>C</s></div>
<div class="r w" style="top:204.73px;height:25.36px"><s style="left:2px;width:85.80px">365<u>°</u>F</s><s style="left:89.80px;width:84.00px">185.0<u>°</u>C</s></div>
<div class="r g" style="top:230.10px;height:25.36px"><s style="left:2px;width:85.80px">370<u>°</u>F</s><s style="left:89.80px;width:84.00px">187.8<u>°</u>C</s></div>
<div class="r w" style="top:255.46px;height:25.36px"><s style="left:2px;width:85.80px">375<u>°</u>F</s><s style="left:89.80px;width:84.00px">190.6<u>°</u>C</s></div>
<div class="r g" style="top:280.82px;height:25.36px"><s style="left:2px;width:85.80px">380<u>°</u>F</s><s style="left:89.80px;width:84.00px">193.3<u>°</u>C</s></div>
<div class="r w" style="top:306.18px;height:25.36px"><s style="left:2px;width:85.80px">385<u>°</u>F</s><s style="left:89.80px;width:84.00px">196.1<u>°</u>C</s></div>
<div class="r g" style="top:331.54px;height:25.36px"><s style="left:2px;width:85.80px">390<u>°</u>F</s><s style="left:89.80px;width:84.00px">198.9<u>°</u>C</s></div>
<div class="r w" style="top:356.91px;height:25.36px"><s style="left:2px;width:85.80px">395<u>°</u>F</s><s style="left:89.80px;width:84.00px">201.7<u>°</u>C</s></div>
<div class="r g" style="top:382.27px;height:25.36px"><s style="left:2px;width:85.80px">400<u>°</u>F</s><s style="left:89.80px;width:84.00px">204.4<u>°</u>C</s></div>
<div class="r w" style="top:407.63px;height:25.36px"><s style="left:2px;width:85.80px">405<u>°</u>F</s><s style="left:89.80px;width:84.00px">207.2<u>°</u>C</s></div>
<div class="r g" style="top:432.99px;height:25.36px"><s style="left:2px;width:85.80px">410<u>°</u>F</s><s style="left:89.80px;width:84.00px">210.0<u>°</u>C</s></div>
<div class="r w" style="top:458.35px;height:25.36px"><s style="left:2px;width:85.80px">415<u>°</u>F</s><s style="left:89.80px;width:84.00px">212.8<u>°</u>C</s></div>
<div class="r g" style="top:483.72px;height:25.36px"><s style="left:2px;width:85.80px">420<u>°</u>F</s><s style="left:89.80px;width:84.00px">215.6<u>°</u>C</s></div>
<div class="r w" style="top:509.08px;height:25.36px"><s style="left:2px;width:85.80px">425<u>°</u>F</s><s style="left:89.80px;width:84.00px">218.3<u>°</u>C</s></div>
<div class="r g" style="top:534.44px;height:25.36px"><s style="left:2px;width:85.80px">430<u>°</u>F</s><s style="left:89.80px;width:84.00px">221.1<u>°</u>C</s></div>
<div class="r w" style="top:559.80px;height:25.36px"><s style="left:2px;width:85.80px">435<u>°</u>F</s><s style="left:89.80px;width:84.00px">223.9<u>°</u>C</s></div>
<div class="r g" style="top:585.16px;height:25.36px"><s style="left:2px;width:85.80px">440<u>°</u>F</s><s style="left:89.80px;width:84.00px">226.7<u>°</u>C</s></div>
<div class="r w" style="top:610.53px;height:25.36px"><s style="left:2px;width:85.80px">445<u>°</u>F</s><s style="left:89.80px;width:84.00px">229.4<u>°</u>C</s></div>
<div class="r g" style="top:635.89px;height:25.36px"><s style="left:2px;width:85.80px">450<u>°</u>F</s><s style="left:89.80px;width:84.00px">232.2<u>°</u>C</s></div>
<div class="r w" style="top:661.25px;height:25.36px"><s style="left:2px;width:85.80px">455<u>°</u>F</s><s style="left:89.80px;width:84.00px">235.0<u>°</u>C</s></div>
<div class="r g" style="top:686.61px;height:25.36px"><s style="left:2px;width:85.80px">460<u>°</u>F</s><s style="left:89.80px;width:84.00px">237.8<u>°</u>C</s></div>
<div class="r w" style="top:711.97px;height:25.36px"><s style="left:2px;width:85.80px">465<u>°</u>F</s><s style="left:89.80px;width:84.00px">240.6<u>°</u>C</s></div>
<div class="r g" style="top:737.34px;height:25.36px"><s style="left:2px;width:85.80px">470<u>°</u>F</s><s style="left:89.80px;width:84.00px">243.3<u>°</u>C</s></div>
<div class="r w" style="top:762.70px;height:25.36px"><s style="left:2px;width:85.80px">475<u>°</u>F</s><s style="left:89.80px;width:84.00px">246.1<u>°</u>C</s></div>
<div class="r g" style="top:788.06px;height:25.36px"><s style="left:2px;width:85.80px">480<u>°</u>F</s><s style="left:89.80px;width:84.00px">248.9<u>°</u>C</s></div>
<div class="r w" style="top:813.42px;height:25.36px"><s style="left:2px;width:85.80px">485<u>°</u>F</s><s style="left:89.80px;width:84.00px">251.7<u>°</u>C</s></div>
<div class="r g" style="top:838.78px;height:25.36px"><s style="left:2px;width:85.80px">490<u>°</u>F</s><s style="left:89.80px;width:84.00px">254.4<u>°</u>C</s></div>
<div class="r w" style="top:864.15px;height:25.36px"><s style="left:2px;width:85.80px">495<u>°</u>F</s><s style="left:89.80px;width:84.00px">257.2<u>°</u>C</s></div>
<div class="r g" style="top:889.51px;height:25.36px"><s style="left:2px;width:85.80px">500<u>°</u>F</s><s style="left:89.80px;width:84.00px">260.0<u>°</u>C</s></div>
<div class="r w" style="top:914.87px;height:25.36px"><s style="left:2px;width:85.80px">505<u>°</u>F</s><s style="left:89.80px;width:84.00px">262.8<u>°</u>C</s></div>
<div class="r g" style="top:940.23px;height:25.36px"><s style="left:2px;width:85.80px">510<u>°</u>F</s><s style="left:89.80px;width:84.00px">265.6<u>°</u>C</s></div>
<div class="r w" style="top:965.59px;height:25.36px"><s style="left:2px;width:85.80px">515<u>°</u>F</s><s style="left:89.80px;width:84.00px">268.3<u>°</u>C</s></div>
<div class="r g" style="top:990.96px;height:25.36px"><s style="left:2px;width:85.80px">520<u>°</u>F</s><s style="left:89.80px;width:84.00px">271.1<u>°</u>C</s></div>
<div class="r w" style="top:1016.32px;height:25.36px"><s style="left:2px;width:85.80px">525<u>°</u>F</s><s style="left:89.80px;width:84.00px">273.9<u>°</u>C</s></div>
<div class="r g" style="top:1041.68px;height:25.36px"><s style="left:2px;width:85.80px">530<u>°</u>F</s><s style="left:89.80px;width:84.00px">276.7<u>°</u>C</s></div>
<div class="r w" style="top:1067.04px;height:25.36px"><s style="left:2px;width:85.80px">535<u>°</u>F</s><s style="left:89.80px;width:84.00px">279.4<u>°</u>C</s></div>
<div class="r g" style="top:1092.40px;height:25.36px"><s style="left:2px;width:85.80px">540<u>°</u>F</s><s style="left:89.80px;width:84.00px">282.2<u>°</u>C</s></div>
<div class="r w" style="top:1117.77px;height:25.36px"><s style="left:2px;width:85.80px">545<u>°</u>F</s><s style="left:89.80px;width:84.00px">285.0<u>°</u>C</s></div>
<div class="r g" style="top:1143.13px;height:25.36px"><s style="left:2px;width:85.80px">550<u>°</u>F</s><s style="left:89.80px;width:84.00px">287.8<u>°</u>C</s></div>
<div class="r w" style="top:1168.49px;height:25.36px"><s style="left:2px;width:85.80px">555<u>°</u>F</s><s style="left:89.80px;width:84.00px">290.6<u>°</u>C</s></div>
<div class="r g" style="top:1193.85px;height:25.36px"><s style="left:2px;width:85.80px">560<u>°</u>F</s><s style="left:89.80px;width:84.00px">293.3<u>°</u>C</s></div>
<div class="hl" style="top:1219.21px"></div>
<div class="vl" style="left:87.80px"></div>
</div>
<div class="formula fit" style="left:501.5px;top:1715.5px">Formula: <u>°</u>C = (<u>°</u>F <span class="nd">–</span> 32) x 0.5555</div>

<div class="shadow" style="left:1312px;top:372px;width:1097px;height:1382px"></div>
<div class="card" style="left:1287.5px;top:392px;width:1097.5px;height:1383.5px;border-left:1.2px solid #c4c4bc;border-bottom:1.2px solid #d6cab8"></div>
<div class="ct fit" style="left:1552.1px;top:426.5px">CELSIUS</div>
<div class="ct fit" style="left:1660.8px;top:426.5px">TO</div>
<div class="ct fit" style="left:1708.6px;top:426.5px">FAHRENHEIT</div>
<div class="ct fit" style="left:1873.2px;top:426.5px">CONVERSION</div>
<div class="ct fit" style="left:2047.5px;top:426.5px">CHART</div>
<div class="t" style="left:1351.20px;top:478.00px;width:161.30px;height:1219.15px">
<div class="h" style="height:28.20px"><b style="left:2px;width:77.40px"><u>°</u>C</b><b style="left:81.40px;width:77.90px"><u>°</u>F</b></div>
<div class="r g" style="top:27.20px;height:25.32px"><s style="left:2px;width:77.40px">-40<u>°</u>C</s><s style="left:81.40px;width:77.90px">-40.0<u>°</u>F</s></div>
<div class="r w" style="top:52.52px;height:25.32px"><s style="left:2px;width:77.40px">-35<u>°</u>C</s><s style="left:81.40px;width:77.90px">-31.0<u>°</u>F</s></div>
<div class="r g" style="top:77.84px;height:25.32px"><s style="left:2px;width:77.40px">-30<u>°</u>C</s><s style="left:81.40px;width:77.90px">-22.0<u>°</u>F</s></div>
<div class="r w" style="top:103.15px;height:25.32px"><s style="left:2px;width:77.40px">-25<u>°</u>C</s><s style="left:81.40px;width:77.90px">-13.0<u>°</u>F</s></div>
<div class="r g" style="top:128.47px;height:25.32px"><s style="left:2px;width:77.40px">-20<u>°</u>C</s><s style="left:81.40px;width:77.90px">-4.0<u>°</u>F</s></div>
<div class="r w" style="top:153.79px;height:25.32px"><s style="left:2px;width:77.40px">-15<u>°</u>C</s><s style="left:81.40px;width:77.90px">5.0<u>°</u>F</s></div>
<div class="r g" style="top:179.11px;height:25.32px"><s style="left:2px;width:77.40px">-10<u>°</u>C</s><s style="left:81.40px;width:77.90px">14.0<u>°</u>F</s></div>
<div class="r w" style="top:204.43px;height:25.32px"><s style="left:2px;width:77.40px">-9<u>°</u>C</s><s style="left:81.40px;width:77.90px">15.8<u>°</u>F</s></div>
<div class="r g" style="top:229.74px;height:25.32px"><s style="left:2px;width:77.40px">-8<u>°</u>C</s><s style="left:81.40px;width:77.90px">17.6<u>°</u>F</s></div>
<div class="r w" style="top:255.06px;height:25.32px"><s style="left:2px;width:77.40px">-7<u>°</u>C</s><s style="left:81.40px;width:77.90px">19.4<u>°</u>F</s></div>
<div class="r g" style="top:280.38px;height:25.32px"><s style="left:2px;width:77.40px">-6<u>°</u>C</s><s style="left:81.40px;width:77.90px">21.2<u>°</u>F</s></div>
<div class="r w" style="top:305.70px;height:25.32px"><s style="left:2px;width:77.40px">-5<u>°</u>C</s><s style="left:81.40px;width:77.90px">23.0<u>°</u>F</s></div>
<div class="r g" style="top:331.02px;height:25.32px"><s style="left:2px;width:77.40px">-4<u>°</u>C</s><s style="left:81.40px;width:77.90px">24.8<u>°</u>F</s></div>
<div class="r w" style="top:356.33px;height:25.32px"><s style="left:2px;width:77.40px">-3<u>°</u>C</s><s style="left:81.40px;width:77.90px">26.6<u>°</u>F</s></div>
<div class="r g" style="top:381.65px;height:25.32px"><s style="left:2px;width:77.40px">-2<u>°</u>C</s><s style="left:81.40px;width:77.90px">28.4<u>°</u>F</s></div>
<div class="r w" style="top:406.97px;height:25.32px"><s style="left:2px;width:77.40px">-1<u>°</u>C</s><s style="left:81.40px;width:77.90px">30.2<u>°</u>F</s></div>
<div class="r g" style="top:432.29px;height:25.32px"><s style="left:2px;width:77.40px">0<u>°</u>C</s><s style="left:81.40px;width:77.90px">32.0<u>°</u>F</s></div>
<div class="r w" style="top:457.61px;height:25.32px"><s style="left:2px;width:77.40px">1<u>°</u>C</s><s style="left:81.40px;width:77.90px">33.8<u>°</u>F</s></div>
<div class="r g" style="top:482.92px;height:25.32px"><s style="left:2px;width:77.40px">2<u>°</u>C</s><s style="left:81.40px;width:77.90px">35.6<u>°</u>F</s></div>
<div class="r w" style="top:508.24px;height:25.32px"><s style="left:2px;width:77.40px">3<u>°</u>C</s><s style="left:81.40px;width:77.90px">37.4<u>°</u>F</s></div>
<div class="r g" style="top:533.56px;height:25.32px"><s style="left:2px;width:77.40px">4<u>°</u>C</s><s style="left:81.40px;width:77.90px">39.2<u>°</u>F</s></div>
<div class="r w" style="top:558.88px;height:25.32px"><s style="left:2px;width:77.40px">5<u>°</u>C</s><s style="left:81.40px;width:77.90px">41.0<u>°</u>F</s></div>
<div class="r g" style="top:584.20px;height:25.32px"><s style="left:2px;width:77.40px">6<u>°</u>C</s><s style="left:81.40px;width:77.90px">42.8<u>°</u>F</s></div>
<div class="r w" style="top:609.51px;height:25.32px"><s style="left:2px;width:77.40px">7<u>°</u>C</s><s style="left:81.40px;width:77.90px">44.6<u>°</u>F</s></div>
<div class="r g" style="top:634.83px;height:25.32px"><s style="left:2px;width:77.40px">8<u>°</u>C</s><s style="left:81.40px;width:77.90px">46.4<u>°</u>F</s></div>
<div class="r w" style="top:660.15px;height:25.32px"><s style="left:2px;width:77.40px">9<u>°</u>C</s><s style="left:81.40px;width:77.90px">48.2<u>°</u>F</s></div>
<div class="r g" style="top:685.47px;height:25.32px"><s style="left:2px;width:77.40px">10<u>°</u>C</s><s style="left:81.40px;width:77.90px">50.0<u>°</u>F</s></div>
<div class="r w" style="top:710.79px;height:25.32px"><s style="left:2px;width:77.40px">11<u>°</u>C</s><s style="left:81.40px;width:77.90px">51.8<u>°</u>F</s></div>
<div class="r g" style="top:736.10px;height:25.32px"><s style="left:2px;width:77.40px">12<u>°</u>C</s><s style="left:81.40px;width:77.90px">53.6<u>°</u>F</s></div>
<div class="r w" style="top:761.42px;height:25.32px"><s style="left:2px;width:77.40px">13<u>°</u>C</s><s style="left:81.40px;width:77.90px">55.4<u>°</u>F</s></div>
<div class="r g" style="top:786.74px;height:25.32px"><s style="left:2px;width:77.40px">14<u>°</u>C</s><s style="left:81.40px;width:77.90px">57.2<u>°</u>F</s></div>
<div class="r w" style="top:812.06px;height:25.32px"><s style="left:2px;width:77.40px">15<u>°</u>C</s><s style="left:81.40px;width:77.90px">59.0<u>°</u>F</s></div>
<div class="r g" style="top:837.38px;height:25.32px"><s style="left:2px;width:77.40px">16<u>°</u>C</s><s style="left:81.40px;width:77.90px">60.8<u>°</u>F</s></div>
<div class="r w" style="top:862.69px;height:25.32px"><s style="left:2px;width:77.40px">17<u>°</u>C</s><s style="left:81.40px;width:77.90px">62.6<u>°</u>F</s></div>
<div class="r g" style="top:888.01px;height:25.32px"><s style="left:2px;width:77.40px">18<u>°</u>C</s><s style="left:81.40px;width:77.90px">64.4<u>°</u>F</s></div>
<div class="r w" style="top:913.33px;height:25.32px"><s style="left:2px;width:77.40px">19<u>°</u>C</s><s style="left:81.40px;width:77.90px">66.2<u>°</u>F</s></div>
<div class="r g" style="top:938.65px;height:25.32px"><s style="left:2px;width:77.40px">20<u>°</u>C</s><s style="left:81.40px;width:77.90px">68.0<u>°</u>F</s></div>
<div class="r w" style="top:963.97px;height:25.32px"><s style="left:2px;width:77.40px">21<u>°</u>C</s><s style="left:81.40px;width:77.90px">69.8<u>°</u>F</s></div>
<div class="r g" style="top:989.28px;height:25.32px"><s style="left:2px;width:77.40px">22<u>°</u>C</s><s style="left:81.40px;width:77.90px">71.6<u>°</u>F</s></div>
<div class="r w" style="top:1014.60px;height:25.32px"><s style="left:2px;width:77.40px">23<u>°</u>C</s><s style="left:81.40px;width:77.90px">73.4<u>°</u>F</s></div>
<div class="r g" style="top:1039.92px;height:25.32px"><s style="left:2px;width:77.40px">24<u>°</u>C</s><s style="left:81.40px;width:77.90px">75.2<u>°</u>F</s></div>
<div class="r w" style="top:1065.24px;height:25.32px"><s style="left:2px;width:77.40px">25<u>°</u>C</s><s style="left:81.40px;width:77.90px">77.0<u>°</u>F</s></div>
<div class="r g" style="top:1090.56px;height:25.32px"><s style="left:2px;width:77.40px">26<u>°</u>C</s><s style="left:81.40px;width:77.90px">78.8<u>°</u>F</s></div>
<div class="r w" style="top:1115.87px;height:25.32px"><s style="left:2px;width:77.40px">27<u>°</u>C</s><s style="left:81.40px;width:77.90px">80.6<u>°</u>F</s></div>
<div class="r g" style="top:1141.19px;height:25.32px"><s style="left:2px;width:77.40px">28<u>°</u>C</s><s style="left:81.40px;width:77.90px">82.4<u>°</u>F</s></div>
<div class="r w" style="top:1166.51px;height:25.32px"><s style="left:2px;width:77.40px">29<u>°</u>C</s><s style="left:81.40px;width:77.90px">84.2<u>°</u>F</s></div>
<div class="r g" style="top:1191.83px;height:25.32px"><s style="left:2px;width:77.40px">30<u>°</u>C</s><s style="left:81.40px;width:77.90px">86.0<u>°</u>F</s></div>
<div class="hl" style="top:1217.15px"></div>
<div class="vl" style="left:79.40px"></div>
</div>
<div class="t" style="left:1539.20px;top:478.00px;width:162.00px;height:1219.15px">
<div class="h" style="height:28.20px"><b style="left:2px;width:79.00px"><u>°</u>C</b><b style="left:83.00px;width:77.00px"><u>°</u>F</b></div>
<div class="r g" style="top:27.20px;height:25.32px"><s style="left:2px;width:79.00px">31<u>°</u>C</s><s style="left:83.00px;width:77.00px">87.8<u>°</u>F</s></div>
<div class="r w" style="top:52.52px;height:25.32px"><s style="left:2px;width:79.00px">32<u>°</u>C</s><s style="left:83.00px;width:77.00px">89.6<u>°</u>F</s></div>
<div class="r g" style="top:77.84px;height:25.32px"><s style="left:2px;width:79.00px">33<u>°</u>C</s><s style="left:83.00px;width:77.00px">91.4<u>°</u>F</s></div>
<div class="r w" style="top:103.15px;height:25.32px"><s style="left:2px;width:79.00px">34<u>°</u>C</s><s style="left:83.00px;width:77.00px">93.2<u>°</u>F</s></div>
<div class="r g" style="top:128.47px;height:25.32px"><s style="left:2px;width:79.00px">35<u>°</u>C</s><s style="left:83.00px;width:77.00px">95.0<u>°</u>F</s></div>
<div class="r w" style="top:153.79px;height:25.32px"><s style="left:2px;width:79.00px">36<u>°</u>C</s><s style="left:83.00px;width:77.00px">96.8<u>°</u>F</s></div>
<div class="r g" style="top:179.11px;height:25.32px"><s style="left:2px;width:79.00px">37<u>°</u>C</s><s style="left:83.00px;width:77.00px">98.6<u>°</u>F</s></div>
<div class="r w" style="top:204.43px;height:25.32px"><s style="left:2px;width:79.00px">38<u>°</u>C</s><s style="left:83.00px;width:77.00px">100.4<u>°</u>F</s></div>
<div class="r g" style="top:229.74px;height:25.32px"><s style="left:2px;width:79.00px">39<u>°</u>C</s><s style="left:83.00px;width:77.00px">102.2<u>°</u>F</s></div>
<div class="r w" style="top:255.06px;height:25.32px"><s style="left:2px;width:79.00px">40<u>°</u>C</s><s style="left:83.00px;width:77.00px">104.0<u>°</u>F</s></div>
<div class="r g" style="top:280.38px;height:25.32px"><s style="left:2px;width:79.00px">41<u>°</u>C</s><s style="left:83.00px;width:77.00px">105.8<u>°</u>F</s></div>
<div class="r w" style="top:305.70px;height:25.32px"><s style="left:2px;width:79.00px">42<u>°</u>C</s><s style="left:83.00px;width:77.00px">107.6<u>°</u>F</s></div>
<div class="r g" style="top:331.02px;height:25.32px"><s style="left:2px;width:79.00px">43<u>°</u>C</s><s style="left:83.00px;width:77.00px">109.4<u>°</u>F</s></div>
<div class="r w" style="top:356.33px;height:25.32px"><s style="left:2px;width:79.00px">44<u>°</u>C</s><s style="left:83.00px;width:77.00px">111.2<u>°</u>F</s></div>
<div class="r g" style="top:381.65px;height:25.32px"><s style="left:2px;width:79.00px">45<u>°</u>C</s><s style="left:83.00px;width:77.00px">113.0<u>°</u>F</s></div>
<div class="r w" style="top:406.97px;height:25.32px"><s style="left:2px;width:79.00px">46<u>°</u>C</s><s style="left:83.00px;width:77.00px">114.8<u>°</u>F</s></div>
<div class="r g" style="top:432.29px;height:25.32px"><s style="left:2px;width:79.00px">47<u>°</u>C</s><s style="left:83.00px;width:77.00px">116.6<u>°</u>F</s></div>
<div class="r w" style="top:457.61px;height:25.32px"><s style="left:2px;width:79.00px">48<u>°</u>C</s><s style="left:83.00px;width:77.00px">118.4<u>°</u>F</s></div>
<div class="r g" style="top:482.92px;height:25.32px"><s style="left:2px;width:79.00px">49<u>°</u>C</s><s style="left:83.00px;width:77.00px">120.2<u>°</u>F</s></div>
<div class="r w" style="top:508.24px;height:25.32px"><s style="left:2px;width:79.00px">50<u>°</u>C</s><s style="left:83.00px;width:77.00px">122.0<u>°</u>F</s></div>
<div class="r g" style="top:533.56px;height:25.32px"><s style="left:2px;width:79.00px">51<u>°</u>C</s><s style="left:83.00px;width:77.00px">123.8<u>°</u>F</s></div>
<div class="r w" style="top:558.88px;height:25.32px"><s style="left:2px;width:79.00px">52<u>°</u>C</s><s style="left:83.00px;width:77.00px">125.6<u>°</u>F</s></div>
<div class="r g" style="top:584.20px;height:25.32px"><s style="left:2px;width:79.00px">53<u>°</u>C</s><s style="left:83.00px;width:77.00px">127.4<u>°</u>F</s></div>
<div class="r w" style="top:609.51px;height:25.32px"><s style="left:2px;width:79.00px">54<u>°</u>C</s><s style="left:83.00px;width:77.00px">129.2<u>°</u>F</s></div>
<div class="r g" style="top:634.83px;height:25.32px"><s style="left:2px;width:79.00px">55<u>°</u>C</s><s style="left:83.00px;width:77.00px">131.0<u>°</u>F</s></div>
<div class="r w" style="top:660.15px;height:25.32px"><s style="left:2px;width:79.00px">56<u>°</u>C</s><s style="left:83.00px;width:77.00px">132.8<u>°</u>F</s></div>
<div class="r g" style="top:685.47px;height:25.32px"><s style="left:2px;width:79.00px">57<u>°</u>C</s><s style="left:83.00px;width:77.00px">134.6<u>°</u>F</s></div>
<div class="r w" style="top:710.79px;height:25.32px"><s style="left:2px;width:79.00px">58<u>°</u>C</s><s style="left:83.00px;width:77.00px">136.4<u>°</u>F</s></div>
<div class="r g" style="top:736.10px;height:25.32px"><s style="left:2px;width:79.00px">59<u>°</u>C</s><s style="left:83.00px;width:77.00px">138.2<u>°</u>F</s></div>
<div class="r w" style="top:761.42px;height:25.32px"><s style="left:2px;width:79.00px">60<u>°</u>C</s><s style="left:83.00px;width:77.00px">140.0<u>°</u>F</s></div>
<div class="r g" style="top:786.74px;height:25.32px"><s style="left:2px;width:79.00px">61<u>°</u>C</s><s style="left:83.00px;width:77.00px">141.8<u>°</u>F</s></div>
<div class="r w" style="top:812.06px;height:25.32px"><s style="left:2px;width:79.00px">62<u>°</u>C</s><s style="left:83.00px;width:77.00px">143.6<u>°</u>F</s></div>
<div class="r g" style="top:837.38px;height:25.32px"><s style="left:2px;width:79.00px">63<u>°</u>C</s><s style="left:83.00px;width:77.00px">145.4<u>°</u>F</s></div>
<div class="r w" style="top:862.69px;height:25.32px"><s style="left:2px;width:79.00px">64<u>°</u>C</s><s style="left:83.00px;width:77.00px">147.2<u>°</u>F</s></div>
<div class="r g" style="top:888.01px;height:25.32px"><s style="left:2px;width:79.00px">65<u>°</u>C</s><s style="left:83.00px;width:77.00px">149.0<u>°</u>F</s></div>
<div class="r w" style="top:913.33px;height:25.32px"><s style="left:2px;width:79.00px">66<u>°</u>C</s><s style="left:83.00px;width:77.00px">150.8<u>°</u>F</s></div>
<div class="r g" style="top:938.65px;height:25.32px"><s style="left:2px;width:79.00px">67<u>°</u>C</s><s style="left:83.00px;width:77.00px">152.6<u>°</u>F</s></div>
<div class="r w" style="top:963.97px;height:25.32px"><s style="left:2px;width:79.00px">68<u>°</u>C</s><s style="left:83.00px;width:77.00px">154.4<u>°</u>F</s></div>
<div class="r g" style="top:989.28px;height:25.32px"><s style="left:2px;width:79.00px">69<u>°</u>C</s><s style="left:83.00px;width:77.00px">156.2<u>°</u>F</s></div>
<div class="r w" style="top:1014.60px;height:25.32px"><s style="left:2px;width:79.00px">70<u>°</u>C</s><s style="left:83.00px;width:77.00px">158.0<u>°</u>F</s></div>
<div class="r g" style="top:1039.92px;height:25.32px"><s style="left:2px;width:79.00px">71<u>°</u>C</s><s style="left:83.00px;width:77.00px">159.8<u>°</u>F</s></div>
<div class="r w" style="top:1065.24px;height:25.32px"><s style="left:2px;width:79.00px">72<u>°</u>C</s><s style="left:83.00px;width:77.00px">161.6<u>°</u>F</s></div>
<div class="r g" style="top:1090.56px;height:25.32px"><s style="left:2px;width:79.00px">73<u>°</u>C</s><s style="left:83.00px;width:77.00px">163.4<u>°</u>F</s></div>
<div class="r w" style="top:1115.87px;height:25.32px"><s style="left:2px;width:79.00px">74<u>°</u>C</s><s style="left:83.00px;width:77.00px">165.2<u>°</u>F</s></div>
<div class="r g" style="top:1141.19px;height:25.32px"><s style="left:2px;width:79.00px">75<u>°</u>C</s><s style="left:83.00px;width:77.00px">167.0<u>°</u>F</s></div>
<div class="r w" style="top:1166.51px;height:25.32px"><s style="left:2px;width:79.00px">76<u>°</u>C</s><s style="left:83.00px;width:77.00px">168.8<u>°</u>F</s></div>
<div class="r g" style="top:1191.83px;height:25.32px"><s style="left:2px;width:79.00px">77<u>°</u>C</s><s style="left:83.00px;width:77.00px">170.6<u>°</u>F</s></div>
<div class="hl" style="top:1217.15px"></div>
<div class="vl" style="left:81.00px"></div>
</div>
<div class="t" style="left:1728.80px;top:478.00px;width:173.60px;height:1219.15px">
<div class="h" style="height:28.20px"><b style="left:2px;width:83.40px"><u>°</u>C</b><b style="left:87.40px;width:84.20px"><u>°</u>F</b></div>
<div class="r g" style="top:27.20px;height:25.32px"><s style="left:2px;width:83.40px">78<u>°</u>C</s><s style="left:87.40px;width:84.20px">172.4<u>°</u>F</s></div>
<div class="r w" style="top:52.52px;height:25.32px"><s style="left:2px;width:83.40px">79<u>°</u>C</s><s style="left:87.40px;width:84.20px">174.2<u>°</u>F</s></div>
<div class="r g" style="top:77.84px;height:25.32px"><s style="left:2px;width:83.40px">80<u>°</u>C</s><s style="left:87.40px;width:84.20px">176.0<u>°</u>F</s></div>
<div class="r w" style="top:103.15px;height:25.32px"><s style="left:2px;width:83.40px">81<u>°</u>C</s><s style="left:87.40px;width:84.20px">177.8<u>°</u>F</s></div>
<div class="r g" style="top:128.47px;height:25.32px"><s style="left:2px;width:83.40px">82<u>°</u>C</s><s style="left:87.40px;width:84.20px">179.6<u>°</u>F</s></div>
<div class="r w" style="top:153.79px;height:25.32px"><s style="left:2px;width:83.40px">83<u>°</u>C</s><s style="left:87.40px;width:84.20px">181.4<u>°</u>F</s></div>
<div class="r g" style="top:179.11px;height:25.32px"><s style="left:2px;width:83.40px">84<u>°</u>C</s><s style="left:87.40px;width:84.20px">183.2<u>°</u>F</s></div>
<div class="r w" style="top:204.43px;height:25.32px"><s style="left:2px;width:83.40px">85<u>°</u>C</s><s style="left:87.40px;width:84.20px">185.0<u>°</u>F</s></div>
<div class="r g" style="top:229.74px;height:25.32px"><s style="left:2px;width:83.40px">86<u>°</u>C</s><s style="left:87.40px;width:84.20px">186.8<u>°</u>F</s></div>
<div class="r w" style="top:255.06px;height:25.32px"><s style="left:2px;width:83.40px">87<u>°</u>C</s><s style="left:87.40px;width:84.20px">188.6<u>°</u>F</s></div>
<div class="r g" style="top:280.38px;height:25.32px"><s style="left:2px;width:83.40px">88<u>°</u>C</s><s style="left:87.40px;width:84.20px">190.4<u>°</u>F</s></div>
<div class="r w" style="top:305.70px;height:25.32px"><s style="left:2px;width:83.40px">89<u>°</u>C</s><s style="left:87.40px;width:84.20px">192.2<u>°</u>F</s></div>
<div class="r g" style="top:331.02px;height:25.32px"><s style="left:2px;width:83.40px">90<u>°</u>C</s><s style="left:87.40px;width:84.20px">194.0<u>°</u>F</s></div>
<div class="r w" style="top:356.33px;height:25.32px"><s style="left:2px;width:83.40px">91<u>°</u>C</s><s style="left:87.40px;width:84.20px">195.8<u>°</u>F</s></div>
<div class="r g" style="top:381.65px;height:25.32px"><s style="left:2px;width:83.40px">92<u>°</u>C</s><s style="left:87.40px;width:84.20px">197.6<u>°</u>F</s></div>
<div class="r w" style="top:406.97px;height:25.32px"><s style="left:2px;width:83.40px">93<u>°</u>C</s><s style="left:87.40px;width:84.20px">199.4<u>°</u>F</s></div>
<div class="r g" style="top:432.29px;height:25.32px"><s style="left:2px;width:83.40px">94<u>°</u>C</s><s style="left:87.40px;width:84.20px">201.2<u>°</u>F</s></div>
<div class="r w" style="top:457.61px;height:25.32px"><s style="left:2px;width:83.40px">95<u>°</u>C</s><s style="left:87.40px;width:84.20px">203.0<u>°</u>F</s></div>
<div class="r g" style="top:482.92px;height:25.32px"><s style="left:2px;width:83.40px">96<u>°</u>C</s><s style="left:87.40px;width:84.20px">204.8<u>°</u>F</s></div>
<div class="r w" style="top:508.24px;height:25.32px"><s style="left:2px;width:83.40px">97<u>°</u>C</s><s style="left:87.40px;width:84.20px">206.6<u>°</u>F</s></div>
<div class="r g" style="top:533.56px;height:25.32px"><s style="left:2px;width:83.40px">98<u>°</u>C</s><s style="left:87.40px;width:84.20px">208.4<u>°</u>F</s></div>
<div class="r w" style="top:558.88px;height:25.32px"><s style="left:2px;width:83.40px">99<u>°</u>C</s><s style="left:87.40px;width:84.20px">210.2<u>°</u>F</s></div>
<div class="r g" style="top:584.20px;height:25.32px"><s style="left:2px;width:83.40px">100<u>°</u>C</s><s style="left:87.40px;width:84.20px">212.0<u>°</u>F</s></div>
<div class="r w" style="top:609.51px;height:25.32px"><s style="left:2px;width:83.40px">101<u>°</u>C</s><s style="left:87.40px;width:84.20px">213.8<u>°</u>F</s></div>
<div class="r g" style="top:634.83px;height:25.32px"><s style="left:2px;width:83.40px">102<u>°</u>C</s><s style="left:87.40px;width:84.20px">215.6<u>°</u>F</s></div>
<div class="r w" style="top:660.15px;height:25.32px"><s style="left:2px;width:83.40px">103<u>°</u>C</s><s style="left:87.40px;width:84.20px">217.4<u>°</u>F</s></div>
<div class="r g" style="top:685.47px;height:25.32px"><s style="left:2px;width:83.40px">104<u>°</u>C</s><s style="left:87.40px;width:84.20px">219.2<u>°</u>F</s></div>
<div class="r w" style="top:710.79px;height:25.32px"><s style="left:2px;width:83.40px">105<u>°</u>C</s><s style="left:87.40px;width:84.20px">221.0<u>°</u>F</s></div>
<div class="r g" style="top:736.10px;height:25.32px"><s style="left:2px;width:83.40px">106<u>°</u>C</s><s style="left:87.40px;width:84.20px">222.8<u>°</u>F</s></div>
<div class="r w" style="top:761.42px;height:25.32px"><s style="left:2px;width:83.40px">107<u>°</u>C</s><s style="left:87.40px;width:84.20px">224.6<u>°</u>F</s></div>
<div class="r g" style="top:786.74px;height:25.32px"><s style="left:2px;width:83.40px">108<u>°</u>C</s><s style="left:87.40px;width:84.20px">226.4<u>°</u>F</s></div>
<div class="r w" style="top:812.06px;height:25.32px"><s style="left:2px;width:83.40px">109<u>°</u>C</s><s style="left:87.40px;width:84.20px">228.2<u>°</u>F</s></div>
<div class="r g" style="top:837.38px;height:25.32px"><s style="left:2px;width:83.40px">110<u>°</u>C</s><s style="left:87.40px;width:84.20px">230.0<u>°</u>F</s></div>
<div class="r w" style="top:862.69px;height:25.32px"><s style="left:2px;width:83.40px">111<u>°</u>C</s><s style="left:87.40px;width:84.20px">231.8<u>°</u>F</s></div>
<div class="r g" style="top:888.01px;height:25.32px"><s style="left:2px;width:83.40px">112<u>°</u>C</s><s style="left:87.40px;width:84.20px">233.6<u>°</u>F</s></div>
<div class="r w" style="top:913.33px;height:25.32px"><s style="left:2px;width:83.40px">113<u>°</u>C</s><s style="left:87.40px;width:84.20px">235.4<u>°</u>F</s></div>
<div class="r g" style="top:938.65px;height:25.32px"><s style="left:2px;width:83.40px">114<u>°</u>C</s><s style="left:87.40px;width:84.20px">237.2<u>°</u>F</s></div>
<div class="r w" style="top:963.97px;height:25.32px"><s style="left:2px;width:83.40px">115<u>°</u>C</s><s style="left:87.40px;width:84.20px">239.0<u>°</u>F</s></div>
<div class="r g" style="top:989.28px;height:25.32px"><s style="left:2px;width:83.40px">116<u>°</u>C</s><s style="left:87.40px;width:84.20px">240.8<u>°</u>F</s></div>
<div class="r w" style="top:1014.60px;height:25.32px"><s style="left:2px;width:83.40px">117<u>°</u>C</s><s style="left:87.40px;width:84.20px">242.6<u>°</u>F</s></div>
<div class="r g" style="top:1039.92px;height:25.32px"><s style="left:2px;width:83.40px">118<u>°</u>C</s><s style="left:87.40px;width:84.20px">244.4<u>°</u>F</s></div>
<div class="r w" style="top:1065.24px;height:25.32px"><s style="left:2px;width:83.40px">119<u>°</u>C</s><s style="left:87.40px;width:84.20px">246.2<u>°</u>F</s></div>
<div class="r g" style="top:1090.56px;height:25.32px"><s style="left:2px;width:83.40px">120<u>°</u>C</s><s style="left:87.40px;width:84.20px">248.0<u>°</u>F</s></div>
<div class="r w" style="top:1115.87px;height:25.32px"><s style="left:2px;width:83.40px">121<u>°</u>C</s><s style="left:87.40px;width:84.20px">249.8<u>°</u>F</s></div>
<div class="r g" style="top:1141.19px;height:25.32px"><s style="left:2px;width:83.40px">122<u>°</u>C</s><s style="left:87.40px;width:84.20px">251.6<u>°</u>F</s></div>
<div class="r w" style="top:1166.51px;height:25.32px"><s style="left:2px;width:83.40px">123<u>°</u>C</s><s style="left:87.40px;width:84.20px">253.4<u>°</u>F</s></div>
<div class="r g" style="top:1191.83px;height:25.32px"><s style="left:2px;width:83.40px">124<u>°</u>C</s><s style="left:87.40px;width:84.20px">255.2<u>°</u>F</s></div>
<div class="hl" style="top:1217.15px"></div>
<div class="vl" style="left:85.40px"></div>
</div>
<div class="t" style="left:1930.00px;top:478.00px;width:175.20px;height:1219.15px">
<div class="h" style="height:28.20px"><b style="left:2px;width:85.10px"><u>°</u>C</b><b style="left:89.10px;width:84.10px"><u>°</u>F</b></div>
<div class="r g" style="top:27.20px;height:25.32px"><s style="left:2px;width:85.10px">125<u>°</u>C</s><s style="left:89.10px;width:84.10px">257.0<u>°</u>F</s></div>
<div class="r w" style="top:52.52px;height:25.32px"><s style="left:2px;width:85.10px">126<u>°</u>C</s><s style="left:89.10px;width:84.10px">258.8<u>°</u>F</s></div>
<div class="r g" style="top:77.84px;height:25.32px"><s style="left:2px;width:85.10px">127<u>°</u>C</s><s style="left:89.10px;width:84.10px">260.6<u>°</u>F</s></div>
<div class="r w" style="top:103.15px;height:25.32px"><s style="left:2px;width:85.10px">128<u>°</u>C</s><s style="left:89.10px;width:84.10px">262.4<u>°</u>F</s></div>
<div class="r g" style="top:128.47px;height:25.32px"><s style="left:2px;width:85.10px">129<u>°</u>C</s><s style="left:89.10px;width:84.10px">264.2<u>°</u>F</s></div>
<div class="r w" style="top:153.79px;height:25.32px"><s style="left:2px;width:85.10px">130<u>°</u>C</s><s style="left:89.10px;width:84.10px">266.0<u>°</u>F</s></div>
<div class="r g" style="top:179.11px;height:25.32px"><s style="left:2px;width:85.10px">131<u>°</u>C</s><s style="left:89.10px;width:84.10px">267.8<u>°</u>F</s></div>
<div class="r w" style="top:204.43px;height:25.32px"><s style="left:2px;width:85.10px">132<u>°</u>C</s><s style="left:89.10px;width:84.10px">269.6<u>°</u>F</s></div>
<div class="r g" style="top:229.74px;height:25.32px"><s style="left:2px;width:85.10px">133<u>°</u>C</s><s style="left:89.10px;width:84.10px">271.4<u>°</u>F</s></div>
<div class="r w" style="top:255.06px;height:25.32px"><s style="left:2px;width:85.10px">134<u>°</u>C</s><s style="left:89.10px;width:84.10px">273.2<u>°</u>F</s></div>
<div class="r g" style="top:280.38px;height:25.32px"><s style="left:2px;width:85.10px">135<u>°</u>C</s><s style="left:89.10px;width:84.10px">275.0<u>°</u>F</s></div>
<div class="r w" style="top:305.70px;height:25.32px"><s style="left:2px;width:85.10px">136<u>°</u>C</s><s style="left:89.10px;width:84.10px">276.8<u>°</u>F</s></div>
<div class="r g" style="top:331.02px;height:25.32px"><s style="left:2px;width:85.10px">137<u>°</u>C</s><s style="left:89.10px;width:84.10px">278.6<u>°</u>F</s></div>
<div class="r w" style="top:356.33px;height:25.32px"><s style="left:2px;width:85.10px">138<u>°</u>C</s><s style="left:89.10px;width:84.10px">280.4<u>°</u>F</s></div>
<div class="r g" style="top:381.65px;height:25.32px"><s style="left:2px;width:85.10px">139<u>°</u>C</s><s style="left:89.10px;width:84.10px">282.2<u>°</u>F</s></div>
<div class="r w" style="top:406.97px;height:25.32px"><s style="left:2px;width:85.10px">140<u>°</u>C</s><s style="left:89.10px;width:84.10px">284.0<u>°</u>F</s></div>
<div class="r g" style="top:432.29px;height:25.32px"><s style="left:2px;width:85.10px">141<u>°</u>C</s><s style="left:89.10px;width:84.10px">285.8<u>°</u>F</s></div>
<div class="r w" style="top:457.61px;height:25.32px"><s style="left:2px;width:85.10px">142<u>°</u>C</s><s style="left:89.10px;width:84.10px">287.6<u>°</u>F</s></div>
<div class="r g" style="top:482.92px;height:25.32px"><s style="left:2px;width:85.10px">143<u>°</u>C</s><s style="left:89.10px;width:84.10px">289.4<u>°</u>F</s></div>
<div class="r w" style="top:508.24px;height:25.32px"><s style="left:2px;width:85.10px">144<u>°</u>C</s><s style="left:89.10px;width:84.10px">291.2<u>°</u>F</s></div>
<div class="r g" style="top:533.56px;height:25.32px"><s style="left:2px;width:85.10px">145<u>°</u>C</s><s style="left:89.10px;width:84.10px">293.0<u>°</u>F</s></div>
<div class="r w" style="top:558.88px;height:25.32px"><s style="left:2px;width:85.10px">146<u>°</u>C</s><s style="left:89.10px;width:84.10px">294.8<u>°</u>F</s></div>
<div class="r g" style="top:584.20px;height:25.32px"><s style="left:2px;width:85.10px">147<u>°</u>C</s><s style="left:89.10px;width:84.10px">296.6<u>°</u>F</s></div>
<div class="r w" style="top:609.51px;height:25.32px"><s style="left:2px;width:85.10px">148<u>°</u>C</s><s style="left:89.10px;width:84.10px">298.4<u>°</u>F</s></div>
<div class="r g" style="top:634.83px;height:25.32px"><s style="left:2px;width:85.10px">149<u>°</u>C</s><s style="left:89.10px;width:84.10px">300.2<u>°</u>F</s></div>
<div class="r w" style="top:660.15px;height:25.32px"><s style="left:2px;width:85.10px">150<u>°</u>C</s><s style="left:89.10px;width:84.10px">302.0<u>°</u>F</s></div>
<div class="r g" style="top:685.47px;height:25.32px"><s style="left:2px;width:85.10px">151<u>°</u>C</s><s style="left:89.10px;width:84.10px">303.8<u>°</u>F</s></div>
<div class="r w" style="top:710.79px;height:25.32px"><s style="left:2px;width:85.10px">152<u>°</u>C</s><s style="left:89.10px;width:84.10px">305.6<u>°</u>F</s></div>
<div class="r g" style="top:736.10px;height:25.32px"><s style="left:2px;width:85.10px">153<u>°</u>C</s><s style="left:89.10px;width:84.10px">307.4<u>°</u>F</s></div>
<div class="r w" style="top:761.42px;height:25.32px"><s style="left:2px;width:85.10px">154<u>°</u>C</s><s style="left:89.10px;width:84.10px">309.2<u>°</u>F</s></div>
<div class="r g" style="top:786.74px;height:25.32px"><s style="left:2px;width:85.10px">155<u>°</u>C</s><s style="left:89.10px;width:84.10px">311.0<u>°</u>F</s></div>
<div class="r w" style="top:812.06px;height:25.32px"><s style="left:2px;width:85.10px">156<u>°</u>C</s><s style="left:89.10px;width:84.10px">312.8<u>°</u>F</s></div>
<div class="r g" style="top:837.38px;height:25.32px"><s style="left:2px;width:85.10px">157<u>°</u>C</s><s style="left:89.10px;width:84.10px">314.6<u>°</u>F</s></div>
<div class="r w" style="top:862.69px;height:25.32px"><s style="left:2px;width:85.10px">158<u>°</u>C</s><s style="left:89.10px;width:84.10px">316.4<u>°</u>F</s></div>
<div class="r g" style="top:888.01px;height:25.32px"><s style="left:2px;width:85.10px">159<u>°</u>C</s><s style="left:89.10px;width:84.10px">318.2<u>°</u>F</s></div>
<div class="r w" style="top:913.33px;height:25.32px"><s style="left:2px;width:85.10px">160<u>°</u>C</s><s style="left:89.10px;width:84.10px">320.0<u>°</u>F</s></div>
<div class="r g" style="top:938.65px;height:25.32px"><s style="left:2px;width:85.10px">161<u>°</u>C</s><s style="left:89.10px;width:84.10px">321.8<u>°</u>F</s></div>
<div class="r w" style="top:963.97px;height:25.32px"><s style="left:2px;width:85.10px">162<u>°</u>C</s><s style="left:89.10px;width:84.10px">323.6<u>°</u>F</s></div>
<div class="r g" style="top:989.28px;height:25.32px"><s style="left:2px;width:85.10px">163<u>°</u>C</s><s style="left:89.10px;width:84.10px">325.4<u>°</u>F</s></div>
<div class="r w" style="top:1014.60px;height:25.32px"><s style="left:2px;width:85.10px">164<u>°</u>C</s><s style="left:89.10px;width:84.10px">327.2<u>°</u>F</s></div>
<div class="r g" style="top:1039.92px;height:25.32px"><s style="left:2px;width:85.10px">165<u>°</u>C</s><s style="left:89.10px;width:84.10px">329.0<u>°</u>F</s></div>
<div class="r w" style="top:1065.24px;height:25.32px"><s style="left:2px;width:85.10px">166<u>°</u>C</s><s style="left:89.10px;width:84.10px">330.8<u>°</u>F</s></div>
<div class="r g" style="top:1090.56px;height:25.32px"><s style="left:2px;width:85.10px">167<u>°</u>C</s><s style="left:89.10px;width:84.10px">332.6<u>°</u>F</s></div>
<div class="r w" style="top:1115.87px;height:25.32px"><s style="left:2px;width:85.10px">168<u>°</u>C</s><s style="left:89.10px;width:84.10px">334.4<u>°</u>F</s></div>
<div class="r g" style="top:1141.19px;height:25.32px"><s style="left:2px;width:85.10px">169<u>°</u>C</s><s style="left:89.10px;width:84.10px">336.2<u>°</u>F</s></div>
<div class="r w" style="top:1166.51px;height:25.32px"><s style="left:2px;width:85.10px">170<u>°</u>C</s><s style="left:89.10px;width:84.10px">338.0<u>°</u>F</s></div>
<div class="r g" style="top:1191.83px;height:25.32px"><s style="left:2px;width:85.10px">171<u>°</u>C</s><s style="left:89.10px;width:84.10px">339.8<u>°</u>F</s></div>
<div class="hl" style="top:1217.15px"></div>
<div class="vl" style="left:87.10px"></div>
</div>
<div class="t" style="left:2132.30px;top:478.00px;width:176.10px;height:1219.15px">
<div class="h" style="height:28.20px"><b style="left:2px;width:85.80px"><u>°</u>C</b><b style="left:89.80px;width:84.30px"><u>°</u>F</b></div>
<div class="r g" style="top:27.20px;height:25.32px"><s style="left:2px;width:85.80px"><i class="big">172<sup>°</sup>C</i></s><s style="left:89.80px;width:84.30px">341.6<u>°</u>F</s></div>
<div class="r w" style="top:52.52px;height:25.32px"><s style="left:2px;width:85.80px">173<u>°</u>C</s><s style="left:89.80px;width:84.30px">343.4<u>°</u>F</s></div>
<div class="r g" style="top:77.84px;height:25.32px"><s style="left:2px;width:85.80px">174<u>°</u>C</s><s style="left:89.80px;width:84.30px">345.2<u>°</u>F</s></div>
<div class="r w" style="top:103.15px;height:25.32px"><s style="left:2px;width:85.80px">175<u>°</u>C</s><s style="left:89.80px;width:84.30px">347.0<u>°</u>F</s></div>
<div class="r g" style="top:128.47px;height:25.32px"><s style="left:2px;width:85.80px">176<u>°</u>C</s><s style="left:89.80px;width:84.30px">348.8<u>°</u>F</s></div>
<div class="r w" style="top:153.79px;height:25.32px"><s style="left:2px;width:85.80px">177<u>°</u>C</s><s style="left:89.80px;width:84.30px">350.6<u>°</u>F</s></div>
<div class="r g" style="top:179.11px;height:25.32px"><s style="left:2px;width:85.80px">178<u>°</u>C</s><s style="left:89.80px;width:84.30px">352.4<u>°</u>F</s></div>
<div class="r w" style="top:204.43px;height:25.32px"><s style="left:2px;width:85.80px">179<u>°</u>C</s><s style="left:89.80px;width:84.30px">354.2<u>°</u>F</s></div>
<div class="r g" style="top:229.74px;height:25.32px"><s style="left:2px;width:85.80px">180<u>°</u>C</s><s style="left:89.80px;width:84.30px">356.0<u>°</u>F</s></div>
<div class="r w" style="top:255.06px;height:25.32px"><s style="left:2px;width:85.80px">181<u>°</u>C</s><s style="left:89.80px;width:84.30px">357.8<u>°</u>F</s></div>
<div class="r g" style="top:280.38px;height:25.32px"><s style="left:2px;width:85.80px">182<u>°</u>C</s><s style="left:89.80px;width:84.30px">359.6<u>°</u>F</s></div>
<div class="r w" style="top:305.70px;height:25.32px"><s style="left:2px;width:85.80px">183<u>°</u>C</s><s style="left:89.80px;width:84.30px">361.4<u>°</u>F</s></div>
<div class="r g" style="top:331.02px;height:25.32px"><s style="left:2px;width:85.80px">184<u>°</u>C</s><s style="left:89.80px;width:84.30px">363.2<u>°</u>F</s></div>
<div class="r w" style="top:356.33px;height:25.32px"><s style="left:2px;width:85.80px">185<u>°</u>C</s><s style="left:89.80px;width:84.30px">365.0<u>°</u>F</s></div>
<div class="r g" style="top:381.65px;height:25.32px"><s style="left:2px;width:85.80px">186<u>°</u>C</s><s style="left:89.80px;width:84.30px">366.8<u>°</u>F</s></div>
<div class="r w" style="top:406.97px;height:25.32px"><s style="left:2px;width:85.80px">187<u>°</u>C</s><s style="left:89.80px;width:84.30px">368.6<u>°</u>F</s></div>
<div class="r g" style="top:432.29px;height:25.32px"><s style="left:2px;width:85.80px">188<u>°</u>C</s><s style="left:89.80px;width:84.30px">370.4<u>°</u>F</s></div>
<div class="r w" style="top:457.61px;height:25.32px"><s style="left:2px;width:85.80px">189<u>°</u>C</s><s style="left:89.80px;width:84.30px">372.2<u>°</u>F</s></div>
<div class="r g" style="top:482.92px;height:25.32px"><s style="left:2px;width:85.80px">190<u>°</u>C</s><s style="left:89.80px;width:84.30px">374.0<u>°</u>F</s></div>
<div class="r w" style="top:508.24px;height:25.32px"><s style="left:2px;width:85.80px">191<u>°</u>C</s><s style="left:89.80px;width:84.30px">375.8<u>°</u>F</s></div>
<div class="r g" style="top:533.56px;height:25.32px"><s style="left:2px;width:85.80px">192<u>°</u>C</s><s style="left:89.80px;width:84.30px">377.6<u>°</u>F</s></div>
<div class="r w" style="top:558.88px;height:25.32px"><s style="left:2px;width:85.80px">193<u>°</u>C</s><s style="left:89.80px;width:84.30px">379.4<u>°</u>F</s></div>
<div class="r g" style="top:584.20px;height:25.32px"><s style="left:2px;width:85.80px">194<u>°</u>C</s><s style="left:89.80px;width:84.30px">381.2<u>°</u>F</s></div>
<div class="r w" style="top:609.51px;height:25.32px"><s style="left:2px;width:85.80px">195<u>°</u>C</s><s style="left:89.80px;width:84.30px">383.0<u>°</u>F</s></div>
<div class="r g" style="top:634.83px;height:25.32px"><s style="left:2px;width:85.80px">196<u>°</u>C</s><s style="left:89.80px;width:84.30px">384.8<u>°</u>F</s></div>
<div class="r w" style="top:660.15px;height:25.32px"><s style="left:2px;width:85.80px">197<u>°</u>C</s><s style="left:89.80px;width:84.30px">386.6<u>°</u>F</s></div>
<div class="r g" style="top:685.47px;height:25.32px"><s style="left:2px;width:85.80px">198<u>°</u>C</s><s style="left:89.80px;width:84.30px">388.4<u>°</u>F</s></div>
<div class="r w" style="top:710.79px;height:25.32px"><s style="left:2px;width:85.80px">199<u>°</u>C</s><s style="left:89.80px;width:84.30px">390.2<u>°</u>F</s></div>
<div class="r g" style="top:736.10px;height:25.32px"><s style="left:2px;width:85.80px">200<u>°</u>C</s><s style="left:89.80px;width:84.30px">392.0<u>°</u>F</s></div>
<div class="r w" style="top:761.42px;height:25.32px"><s style="left:2px;width:85.80px">201<u>°</u>C</s><s style="left:89.80px;width:84.30px">393.8<u>°</u>F</s></div>
<div class="r g" style="top:786.74px;height:25.32px"><s style="left:2px;width:85.80px">202<u>°</u>C</s><s style="left:89.80px;width:84.30px">395.6<u>°</u>F</s></div>
<div class="r w" style="top:812.06px;height:25.32px"><s style="left:2px;width:85.80px">203<u>°</u>C</s><s style="left:89.80px;width:84.30px">397.4<u>°</u>F</s></div>
<div class="r g" style="top:837.38px;height:25.32px"><s style="left:2px;width:85.80px">204<u>°</u>C</s><s style="left:89.80px;width:84.30px">399.2<u>°</u>F</s></div>
<div class="r w" style="top:862.69px;height:25.32px"><s style="left:2px;width:85.80px">205<u>°</u>C</s><s style="left:89.80px;width:84.30px">401.0<u>°</u>F</s></div>
<div class="r g" style="top:888.01px;height:25.32px"><s style="left:2px;width:85.80px">210<u>°</u>C</s><s style="left:89.80px;width:84.30px">410.0<u>°</u>F</s></div>
<div class="r w" style="top:913.33px;height:25.32px"><s style="left:2px;width:85.80px">215<u>°</u>C</s><s style="left:89.80px;width:84.30px">419.0<u>°</u>F</s></div>
<div class="r g" style="top:938.65px;height:25.32px"><s style="left:2px;width:85.80px">220<u>°</u>C</s><s style="left:89.80px;width:84.30px">428.0<u>°</u>F</s></div>
<div class="r w" style="top:963.97px;height:25.32px"><s style="left:2px;width:85.80px">225<u>°</u>C</s><s style="left:89.80px;width:84.30px">437.0<u>°</u>F</s></div>
<div class="r g" style="top:989.28px;height:25.32px"><s style="left:2px;width:85.80px">230<u>°</u>C</s><s style="left:89.80px;width:84.30px">446.0<u>°</u>F</s></div>
<div class="r w" style="top:1014.60px;height:25.32px"><s style="left:2px;width:85.80px">235<u>°</u>C</s><s style="left:89.80px;width:84.30px">455.0<u>°</u>F</s></div>
<div class="r g" style="top:1039.92px;height:25.32px"><s style="left:2px;width:85.80px">240<u>°</u>C</s><s style="left:89.80px;width:84.30px">464.0<u>°</u>F</s></div>
<div class="r w" style="top:1065.24px;height:25.32px"><s style="left:2px;width:85.80px">245<u>°</u>C</s><s style="left:89.80px;width:84.30px">473.0<u>°</u>F</s></div>
<div class="r g" style="top:1090.56px;height:25.32px"><s style="left:2px;width:85.80px">250<u>°</u>C</s><s style="left:89.80px;width:84.30px">482.0<u>°</u>F</s></div>
<div class="r w" style="top:1115.87px;height:25.32px"><s style="left:2px;width:85.80px">255<u>°</u>C</s><s style="left:89.80px;width:84.30px">491.0<u>°</u>F</s></div>
<div class="r g" style="top:1141.19px;height:25.32px"><s style="left:2px;width:85.80px">260<u>°</u>C</s><s style="left:89.80px;width:84.30px">500.0<u>°</u>F</s></div>
<div class="r w" style="top:1166.51px;height:25.32px"><s style="left:2px;width:85.80px">265<u>°</u>C</s><s style="left:89.80px;width:84.30px">509.0<u>°</u>F</s></div>
<div class="r g" style="top:1191.83px;height:25.32px"><s style="left:2px;width:85.80px">270<u>°</u>C</s><s style="left:89.80px;width:84.30px">518.0<u>°</u>F</s></div>
<div class="hl" style="top:1217.15px"></div>
<div class="vl" style="left:87.80px"></div>
</div>
<div class="formula fit" style="left:1712px;top:1719px">Formula: 1.8 <span class="ast">*</span> <u>°</u>C + 32</div>
<div style="position:absolute;left:1972px;top:1719px;width:1px;height:34px;background:#bbb"></div>

<div class="etsy fit" style="left:979px;top:1838px">DigiProDesignService.etsy.com</div>

<script>
(function(){
var E={"f": [220.03, 712.36, 619.83, 329.52, 1772.7, 317.56, 53.16, 189.69, 192.98, 104.17, 43.64, 232.11, 147.3, 152.34, 33.23, 96.69, 161.7, 81.77, 374.69, 96.69, 33.23, 152.34, 161.7, 81.77, 261.95, 595.72], "s": 54.42, "b": 16.08};
function tw(e){var r=document.createRange();r.selectNodeContents(e);return r.getBoundingClientRect().width;}
function fit(e,x,o){e.style.transform='';var a=tw(e);if(a>0&&x>0){var k=x/a;if(Math.abs(k-1)>0.012){e.style.transformOrigin=o;e.style.transform='scaleX('+k.toFixed(4)+')';}}}
function run(){
var L=document.querySelectorAll('.fit');
for(var i=0;i<L.length&&i<E.f.length;i++)fit(L[i],E.f[i],'0 50%');
var st=document.getElementById('fitcss');if(!st){st=document.createElement('style');st.id='fitcss';document.head.appendChild(st);}
st.textContent='';
var S=document.querySelectorAll('.t s'),B=document.querySelectorAll('.t b');
var ks=1,kb=1;
if(S.length>1){var a=tw(S[1]);if(a>0)ks=E.s/a;}
if(B.length){var a2=tw(B[0]);if(a2>0)kb=E.b/a2;}
var css='';if(Math.abs(ks-1)>0.012)css+='.t s{transform:scaleX('+ks.toFixed(4)+')}';if(Math.abs(kb-1)>0.012)css+='.t b{transform:scaleX('+kb.toFixed(4)+')}';
st.textContent=css;
}
try{run();}catch(e){}
if(document.fonts&&document.fonts.ready){document.fonts.ready.then(function(){try{run();}catch(e){}});}
})();
</script>
</body></html>
